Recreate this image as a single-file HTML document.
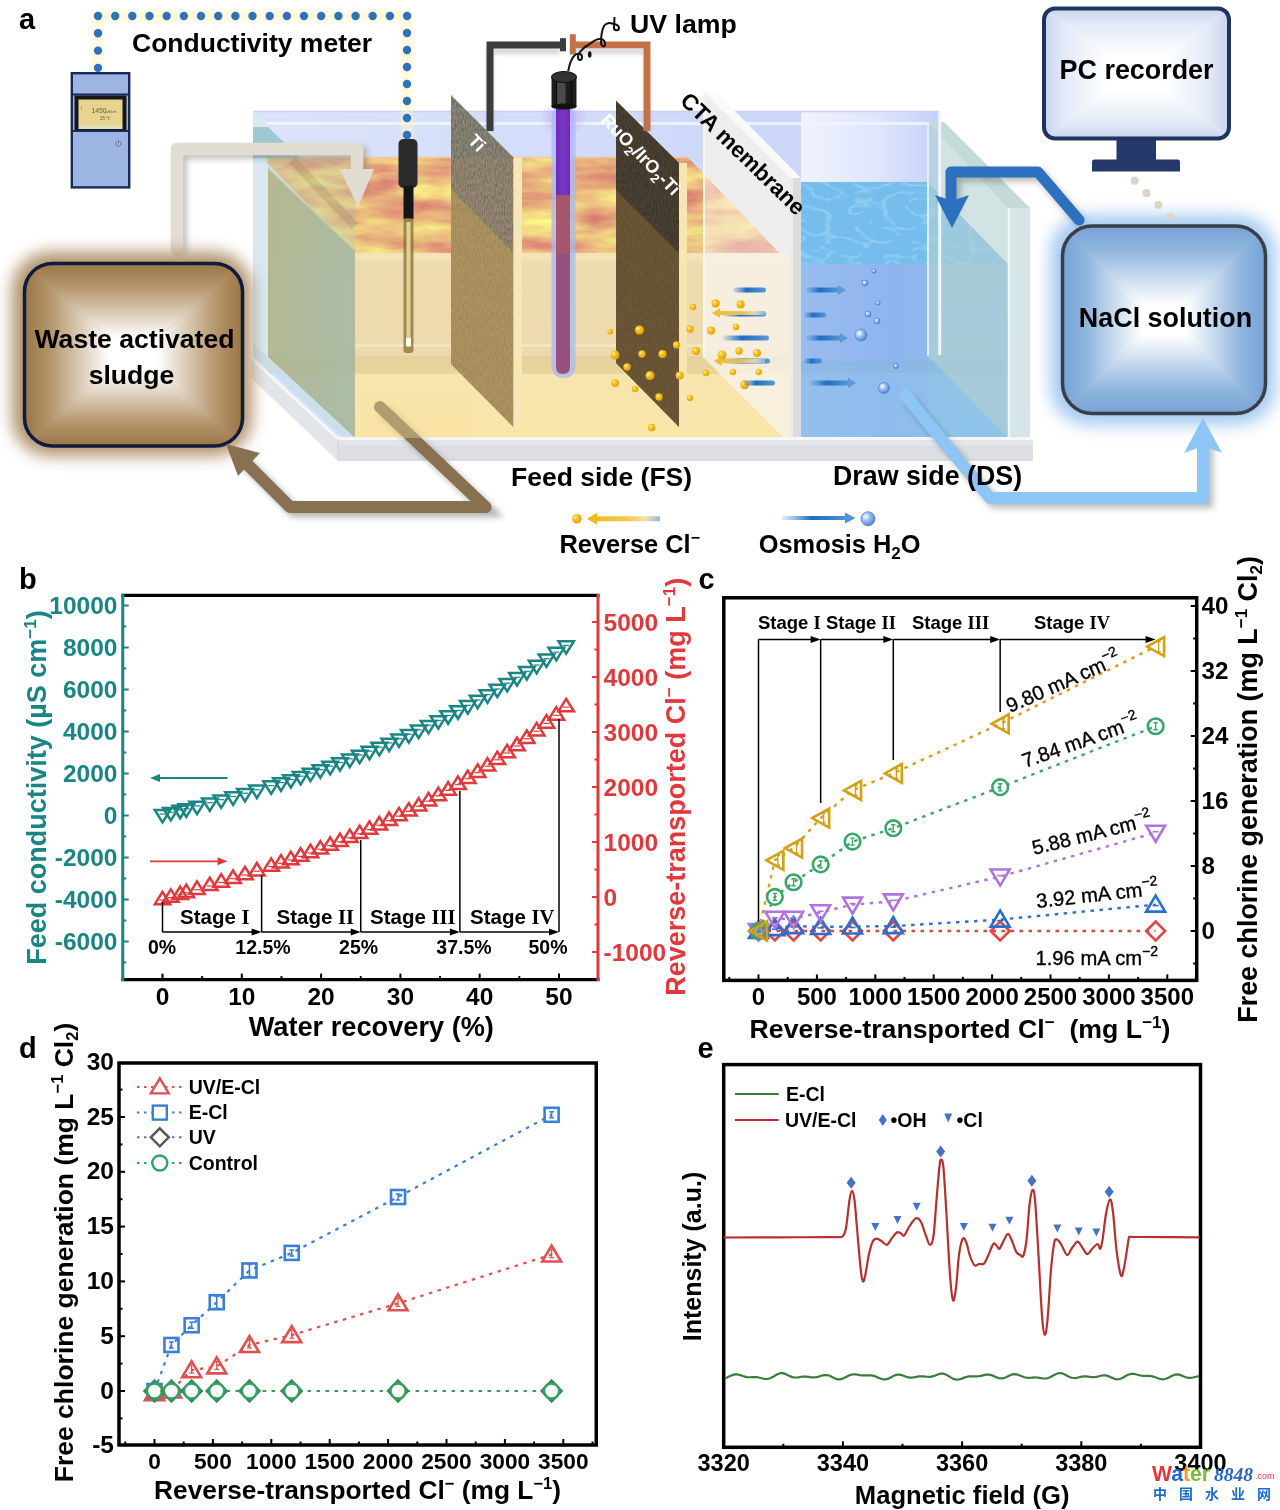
<!DOCTYPE html>
<html><head><meta charset="utf-8"><title>Figure</title>
<style>html,body{margin:0;padding:0;background:#fff;}svg{display:block;}</style>
</head><body>
<svg width="1280" height="1510" viewBox="0 0 1280 1510"><defs>
<linearGradient id="gBack" x1="0" y1="0" x2="1" y2="0">
 <stop offset="0" stop-color="#dce4fa"/><stop offset="0.5" stop-color="#d4ddf9"/><stop offset="1" stop-color="#cbd6f8"/></linearGradient>
<linearGradient id="gBackDS" x1="0" y1="0" x2="1" y2="0">
 <stop offset="0" stop-color="#f0f3fe"/><stop offset="0.55" stop-color="#dfe6fc"/><stop offset="1" stop-color="#c4d0f7"/></linearGradient>
<linearGradient id="gFeedBody" x1="0" y1="0" x2="0" y2="1">
 <stop offset="0" stop-color="#efdcae"/><stop offset="0.55" stop-color="#ecdaae"/><stop offset="0.575" stop-color="#ecdcb0"/><stop offset="0.64" stop-color="#f0dfae"/><stop offset="0.66" stop-color="#f8e5ae"/><stop offset="1" stop-color="#fae6a6"/></linearGradient>
<linearGradient id="gFeedFade" x1="0" y1="0" x2="1" y2="0">
 <stop offset="0" stop-color="#ffffff" stop-opacity="0"/><stop offset="1" stop-color="#ffffff" stop-opacity="0.45"/></linearGradient>
<linearGradient id="gWater" x1="0" y1="0" x2="1" y2="0">
 <stop offset="0" stop-color="#9abcee"/><stop offset="0.7" stop-color="#8fb4ef"/><stop offset="1" stop-color="#90b8ec"/></linearGradient>
<linearGradient id="gWaterR" x1="0" y1="0" x2="0" y2="1">
 <stop offset="0" stop-color="#94c0e4"/><stop offset="1" stop-color="#8ec4ea"/></linearGradient>
<linearGradient id="gUVtop" x1="0" y1="0" x2="1" y2="0">
 <stop offset="0" stop-color="#6a2cb8"/><stop offset="0.5" stop-color="#7a36c6"/><stop offset="1" stop-color="#6a2cb8"/></linearGradient>
<linearGradient id="gArrowB" x1="0" y1="0" x2="1" y2="0">
 <stop offset="0" stop-color="#3a86cc" stop-opacity="0.15"/><stop offset="0.4" stop-color="#1f6cc0"/><stop offset="1" stop-color="#5b9ad6"/></linearGradient>
<linearGradient id="gArrowY" x1="0" y1="0" x2="1" y2="0">
 <stop offset="0" stop-color="#f0b418"/><stop offset="0.55" stop-color="#f5c850"/><stop offset="0.8" stop-color="#f8e0a0"/><stop offset="1" stop-color="#8cb8e8"/></linearGradient>
<radialGradient id="gBall" cx="0.35" cy="0.35" r="0.7">
 <stop offset="0" stop-color="#fff2b0"/><stop offset="0.35" stop-color="#f8c424"/><stop offset="1" stop-color="#e0a000"/></radialGradient>
<radialGradient id="gBub" cx="0.35" cy="0.35" r="0.7">
 <stop offset="0" stop-color="#ffffff"/><stop offset="0.4" stop-color="#a0c4f4"/><stop offset="1" stop-color="#4a7ed0"/></radialGradient>
<radialGradient id="gGlowP" cx="0.5" cy="0.5" r="0.5">
 <stop offset="0" stop-color="#c090e8" stop-opacity="0.7"/><stop offset="1" stop-color="#c090e8" stop-opacity="0"/></radialGradient>
<filter id="blur8" x="-30%" y="-30%" width="160%" height="160%"><feGaussianBlur stdDeviation="8"/></filter>
<filter id="blur6" x="-30%" y="-30%" width="160%" height="160%"><feGaussianBlur stdDeviation="6"/></filter>
<filter id="blur3" x="-30%" y="-30%" width="160%" height="160%"><feGaussianBlur stdDeviation="3"/></filter>
<filter id="blur2" x="-30%" y="-30%" width="160%" height="160%"><feGaussianBlur stdDeviation="2"/></filter>
<filter id="marble" x="0" y="0" width="100%" height="100%" color-interpolation-filters="sRGB">
 <feTurbulence type="fractalNoise" baseFrequency="0.014 0.05" numOctaves="4" seed="11" result="n"/>
 <feColorMatrix in="n" type="matrix" values="0.2 0 0 0 0.82  0.75 0 0 0 0.36  0.13 0 0 0 0.43  0 0 0 0 1" result="c"/>
 <feComposite in="c" in2="SourceGraphic" operator="in"/>
</filter>
<filter id="ripple" x="0" y="0" width="100%" height="100%" color-interpolation-filters="sRGB">
 <feTurbulence type="turbulence" baseFrequency="0.035 0.07" numOctaves="2" seed="7" result="n"/>
 <feColorMatrix in="n" type="matrix" values="0 0 0 0 0.82  0 0 0 0 0.94  0 0 0 0 1  -2.0 0 0 0 0.36" result="c"/>
 <feFlood flood-color="#74bdec" result="f"/>
 <feComposite in="c" in2="f" operator="over" result="m"/>
 <feComposite in="m" in2="SourceGraphic" operator="in"/>
</filter>
<filter id="fabric" x="0" y="0" width="100%" height="100%" color-interpolation-filters="sRGB">
 <feTurbulence type="fractalNoise" baseFrequency="0.9 0.25" numOctaves="1" seed="2" result="n"/>
 <feColorMatrix in="n" type="matrix" values="0 0 0 0 0  0 0 0 0 0  0 0 0 0 0  0.6 0 0 0 -0.22" result="a"/>
 <feComposite in="a" in2="SourceGraphic" operator="in" result="t"/>
 <feMerge><feMergeNode in="SourceGraphic"/><feMergeNode in="t"/></feMerge>
</filter>
</defs>
<path d="M253,111 H801 V441 H338 L253,358 Z" fill="url(#gBack)"/>
<rect x="801" y="111" width="139" height="330" fill="url(#gBackDS)"/>
<path d="M253,111.5 H940" stroke="#c4d0f2" stroke-width="1.5"/>
<path d="M262,123.5 H930" stroke="#f2f5fe" stroke-width="3" opacity="0.9"/>
<rect x="355" y="253" width="445" height="186" fill="url(#gFeedBody)"/>
<rect x="355" y="253" width="445" height="8" fill="#f6e6c0" opacity="0.6"/>
<path d="M268,356 H790 V374 H268 Z" fill="#d4a848" opacity="0.2"/>
<path d="M268,345.5 H790" stroke="#fff6dc" stroke-width="2" opacity="0.55"/>
<path d="M704,92 L790,178 V253 H704 Z" fill="#eeeeee"/>
<path d="M704,253 H790 V444 L704,358 Z" fill="#f7f3ea" opacity="0.8"/>
<path d="M262,157.5 H688 L779,253 H355 Z" fill="#f0b060" filter="url(#marble)"/>
<path d="M704,174.3 L779,253 H704 Z" fill="#ffffff" opacity="0.4"/>
<path d="M262,157.5 H688" stroke="#f3c9a0" stroke-width="2" opacity="0.7"/>
<path d="M451,95 L513.5,157.5 L513.5,427 L451,364 Z" fill="#8b877a" filter="url(#fabric)"/>
<path d="M451,189 L513.5,253 L513.5,427 L451,364 Z" fill="#c8a050" opacity="0.55"/>
<path d="M451,189 L513.5,253 V157.5 L451,157.5 Z" fill="#e89050" opacity="0.12"/>
<rect x="513.5" y="157.5" width="8.5" height="270" fill="#f7e7b8"/>
<path d="M513.5,160 V427" stroke="#e8d098" stroke-width="1" stroke-dasharray="1 3"/>
<path d="M616,100.5 L679,163 L679,427 L616,363 Z" fill="#4c4234" filter="url(#fabric)"/>
<path d="M616,190 L679,253 L679,427 L616,363 Z" fill="#a88040" opacity="0.35"/>
<rect x="679" y="163" width="8" height="264" fill="#f7e6b4"/>
<ellipse cx="563.5" cy="118" rx="24" ry="18" fill="url(#gGlowP)"/>
<rect x="551.5" y="106" width="24" height="272" rx="11" fill="#aab8f2" opacity="0.75"/>
<rect x="556" y="107" width="14" height="88" fill="url(#gUVtop)"/>
<path d="M556,195 H570 V367 Q570,374 563,374 Q556,374 556,367 Z" fill="#95507f"/>
<path d="M556,195 H570 V253 H556 Z" fill="#c0604a" opacity="0.35"/>
<rect x="551.5" y="77" width="25" height="30" fill="#1c1c1c"/>
<rect x="556.5" y="80" width="9" height="27" fill="#4a4a4a"/>
<ellipse cx="564" cy="77" rx="12.5" ry="5.5" fill="#333" stroke="#111" stroke-width="1"/>
<ellipse cx="564" cy="106.5" rx="12.5" ry="3" fill="#111"/>
<path d="M556.5,81 V106 M571.5,81 V106" stroke="#0a0a0a" stroke-width="1.2"/>
<path d="M490,131 V51 H560 M572.5,51 H647 V131" fill="none" stroke="#888" stroke-width="6" opacity="0.35" filter="url(#blur2)"/>
<path d="M490,131 V45 H560" fill="none" stroke="#3c3c3c" stroke-width="7"/>
<rect x="560" y="38.2" width="6" height="13.1" fill="#3c3c3c"/>
<path d="M572.5,44.8 H647 V131" fill="none" stroke="#c47146" stroke-width="6.8"/>
<rect x="569.8" y="34.2" width="6" height="20.3" fill="#c47146"/>
<path d="M568.2,71.2 C569.5,64 571.5,58 575,55 C577,53 582,53 582,57 C582,61 578,61 578,57 C578,53 584,47 589,44.5 C592,42 596,39 600,39 C604,39 605.5,42 605,45 C604.5,47.5 601,46 601,43 C601,38 602,30 604,26 C606,23 610,22.5 612,23.5 C615,24 619,25 619,28 C619,31 614,31 614,28 C614,24 614.5,20 614.5,17" fill="none" stroke="#111" stroke-width="2"/>
<ellipse cx="589.7" cy="54.5" rx="1.8" ry="3.2" fill="#111"/>
<text x="630.00" y="32.50" font-family="'Liberation Sans', Arial, sans-serif" font-size="26.7" font-weight="bold" fill="#000" text-anchor="start" >UV lamp</text>
<rect x="398.5" y="139" width="19" height="49" rx="5" fill="#2a2a2a"/>
<rect x="403.5" y="186" width="10" height="33" fill="#151515"/>
<rect x="403.5" y="218" width="10" height="135" rx="3" fill="#8a6e30" opacity="0.75"/>
<rect x="406.5" y="222" width="4" height="125" fill="#e8d9a0" opacity="0.9"/>
<rect x="406" y="338" width="5" height="8" fill="#fff"/>
<path d="M704,92 L716,92 L801,178 L790,178 Z" fill="#fafafa"/>
<path d="M704,92 V358" stroke="#f6f6f6" stroke-width="2"/>
<rect x="790" y="178" width="11" height="266" fill="#dcdcdc"/>
<rect x="790" y="178" width="3" height="266" fill="#ececec"/>
<rect x="801" y="263" width="127" height="176" fill="url(#gWater)"/>
<path d="M928,263 H1008 V438 H928 Z" fill="url(#gWaterR)"/>
<rect x="801" y="365" width="127" height="73" fill="#8ec6ea" opacity="0.45"/>
<path d="M801,367 H1008" stroke="#86b6dc" stroke-width="12" opacity="0.45"/>
<path d="M801,182 H928 L1008,264 H801 Z" fill="#6cb6e8" filter="url(#ripple)"/>
<path d="M928,122 L1008,204 L1008,438 L928,356 Z" fill="#b4d0d0" opacity="0.6"/>
<path d="M928,122 L944,122 L1030,208 L1008,208 Z" fill="#c4dad8"/>
<rect x="1008" y="208" width="22" height="239" fill="#d6e6e6"/>
<path d="M1009,208 V447" stroke="#f0f6f6" stroke-width="2.5"/>
<path d="M928,122 V356" stroke="#e2ecf8" stroke-width="2"/>
<path d="M939.7,111 V355" stroke="#f2f5fe" stroke-width="3"/>
<path d="M253.5,111 L267,124 L267,357 L253.5,344 Z" fill="#dae8f2"/>
<path d="M253,127 L268,127 L300,158 L253,158 Z" fill="#86bcc2" opacity="0.7"/>
<path d="M268,158 L355,158 L355,251 L268,167.5 Z" fill="#a8c8c0" opacity="0.25"/>
<path d="M292,160 L355,226" stroke="#8a7040" stroke-width="9" opacity="0.22"/>
<linearGradient id="gGreen" x1="0" y1="0" x2="1" y2="0.3"><stop offset="0" stop-color="#afb283"/><stop offset="1" stop-color="#a6b699"/></linearGradient>
<path d="M268,168 L355,250 L355,438 L268,357 Z" fill="url(#gGreen)" opacity="0.88"/>
<path d="M268,168 L355,250" stroke="#c4d4b0" stroke-width="2" opacity="0.8"/>
<path d="M253.5,344 L268,357 L355,438 L346,440 L253.5,356 Z" fill="#c8dde8" opacity="0.8"/>
<path d="M251,358 L338,438.5 H1033 V461 H338 L251,378 Z" fill="#e3e5ea"/>
<path d="M251,358 L338,438.5 H1033" fill="none" stroke="#f6f7fa" stroke-width="3"/>
<path d="M338,446 H1033 V461 H338 Z" fill="#dcdee3"/>
<path d="M338,438.5 V461" stroke="#d2d5dc" stroke-width="1"/>
<text x="467.00" y="141.60" font-family="'Liberation Sans', Arial, sans-serif" font-size="18" font-weight="bold" fill="#fff" text-anchor="start" transform="rotate(46 467.00 141.60)" >Ti</text>
<text x="600.00" y="121.00" font-family="'Liberation Sans', Arial, sans-serif" font-size="18" font-weight="bold" fill="#fff" text-anchor="start" transform="rotate(46 600.00 121.00)" >RuO<tspan dy="4.5" font-size="12.5">2</tspan><tspan dy="-4.5">/IrO</tspan><tspan dy="4.5" font-size="12.5">2</tspan><tspan dy="-4.5">-Ti</tspan></text>
<text x="679.00" y="102.00" font-family="'Liberation Sans', Arial, sans-serif" font-size="22.5" font-weight="bold" fill="#000" text-anchor="start" transform="rotate(44.3 679.00 102.00)" >CTA membrane</text>
<circle cx="693" cy="307" r="3.28" fill="url(#gBall)"/>
<circle cx="715.6" cy="303.4" r="4.10" fill="url(#gBall)"/>
<circle cx="740.6" cy="304.4" r="4.10" fill="url(#gBall)"/>
<circle cx="610.3" cy="331.6" r="2.87" fill="url(#gBall)"/>
<circle cx="639.4" cy="330" r="4.51" fill="url(#gBall)"/>
<circle cx="690" cy="329" r="3.69" fill="url(#gBall)"/>
<circle cx="711" cy="330.6" r="4.10" fill="url(#gBall)"/>
<circle cx="736" cy="327" r="3.28" fill="url(#gBall)"/>
<circle cx="676.6" cy="345" r="3.69" fill="url(#gBall)"/>
<circle cx="615" cy="355" r="4.51" fill="url(#gBall)"/>
<circle cx="642" cy="354" r="3.69" fill="url(#gBall)"/>
<circle cx="662.5" cy="354" r="4.10" fill="url(#gBall)"/>
<circle cx="696" cy="351" r="4.10" fill="url(#gBall)"/>
<circle cx="722" cy="355" r="4.51" fill="url(#gBall)"/>
<circle cx="739" cy="351" r="3.69" fill="url(#gBall)"/>
<circle cx="757" cy="353" r="4.10" fill="url(#gBall)"/>
<circle cx="627" cy="367" r="3.69" fill="url(#gBall)"/>
<circle cx="650" cy="375.6" r="4.51" fill="url(#gBall)"/>
<circle cx="679.7" cy="375.6" r="4.10" fill="url(#gBall)"/>
<circle cx="706" cy="373" r="3.28" fill="url(#gBall)"/>
<circle cx="733" cy="372" r="3.28" fill="url(#gBall)"/>
<circle cx="758.75" cy="372" r="3.28" fill="url(#gBall)"/>
<circle cx="615" cy="383" r="4.10" fill="url(#gBall)"/>
<circle cx="635" cy="389" r="3.28" fill="url(#gBall)"/>
<circle cx="659" cy="397" r="3.69" fill="url(#gBall)"/>
<circle cx="690" cy="398" r="3.28" fill="url(#gBall)"/>
<circle cx="744.7" cy="384.7" r="4.51" fill="url(#gBall)"/>
<circle cx="651.6" cy="427.5" r="3.69" fill="url(#gBall)"/>
<rect x="733" y="287.5" width="33" height="5" rx="2.5" fill="url(#gArrowB)"/>
<rect x="723" y="311.5" width="43" height="5" rx="2.5" fill="url(#gArrowB)"/>
<rect x="723" y="335.5" width="46" height="5" rx="2.5" fill="url(#gArrowB)"/>
<rect x="723" y="358.5" width="47" height="5" rx="2.5" fill="url(#gArrowB)"/>
<rect x="743" y="380.5" width="32" height="5" rx="2.5" fill="url(#gArrowB)"/>
<path d="M712,313 l8,-5 v3 h45 v4 h-45 v3 Z" fill="url(#gArrowY)" opacity="0.9"/>
<path d="M714,361 l8,-5 v3 h43 v4 h-43 v3 Z" fill="url(#gArrowY)" opacity="0.9"/>
<rect x="806" y="287.5" width="34" height="5" rx="2" fill="url(#gArrowB)"/>
<path d="M846,290 l-8,-5 v10 Z" fill="#5b9ad6"/>
<rect x="804" y="312.5" width="22" height="5" rx="2" fill="url(#gArrowB)"/>
<rect x="806" y="335.5" width="36" height="5" rx="2" fill="url(#gArrowB)"/>
<path d="M848,338 l-8,-5 v10 Z" fill="#5b9ad6"/>
<rect x="804" y="358.5" width="18" height="5" rx="2" fill="url(#gArrowB)"/>
<rect x="810" y="380.5" width="40" height="5" rx="2" fill="url(#gArrowB)"/>
<path d="M856,383 l-8,-5 v10 Z" fill="#5b9ad6"/>
<circle cx="874" cy="271" r="2.2" fill="url(#gBub)" stroke="#4a7cc8" stroke-width="0.6"/>
<circle cx="865" cy="283" r="3" fill="url(#gBub)" stroke="#4a7cc8" stroke-width="0.6"/>
<circle cx="878" cy="303" r="2.2" fill="url(#gBub)" stroke="#4a7cc8" stroke-width="0.6"/>
<circle cx="868" cy="314" r="3" fill="url(#gBub)" stroke="#4a7cc8" stroke-width="0.6"/>
<circle cx="877" cy="321" r="3" fill="url(#gBub)" stroke="#4a7cc8" stroke-width="0.6"/>
<circle cx="861" cy="335" r="6" fill="url(#gBub)" stroke="#4a7cc8" stroke-width="0.6"/>
<circle cx="884" cy="388" r="5.5" fill="url(#gBub)" stroke="#4a7cc8" stroke-width="0.6"/>
<circle cx="896" cy="366" r="2.5" fill="url(#gBub)" stroke="#4a7cc8" stroke-width="0.6"/>
<path d="M98,16 H407 M98,16 V68 M407,16 V135" stroke="#fff4c4" stroke-width="12" fill="none" opacity="0.55" filter="url(#blur2)"/>
<circle cx="98.0" cy="16.0" r="4.2" fill="#2e72bb"/>
<circle cx="115.2" cy="16.0" r="4.2" fill="#2e72bb"/>
<circle cx="132.3" cy="16.0" r="4.2" fill="#2e72bb"/>
<circle cx="149.5" cy="16.0" r="4.2" fill="#2e72bb"/>
<circle cx="166.7" cy="16.0" r="4.2" fill="#2e72bb"/>
<circle cx="183.9" cy="16.0" r="4.2" fill="#2e72bb"/>
<circle cx="201.0" cy="16.0" r="4.2" fill="#2e72bb"/>
<circle cx="218.2" cy="16.0" r="4.2" fill="#2e72bb"/>
<circle cx="235.4" cy="16.0" r="4.2" fill="#2e72bb"/>
<circle cx="252.5" cy="16.0" r="4.2" fill="#2e72bb"/>
<circle cx="269.7" cy="16.0" r="4.2" fill="#2e72bb"/>
<circle cx="286.9" cy="16.0" r="4.2" fill="#2e72bb"/>
<circle cx="304.0" cy="16.0" r="4.2" fill="#2e72bb"/>
<circle cx="321.2" cy="16.0" r="4.2" fill="#2e72bb"/>
<circle cx="338.4" cy="16.0" r="4.2" fill="#2e72bb"/>
<circle cx="355.6" cy="16.0" r="4.2" fill="#2e72bb"/>
<circle cx="372.7" cy="16.0" r="4.2" fill="#2e72bb"/>
<circle cx="389.9" cy="16.0" r="4.2" fill="#2e72bb"/>
<circle cx="407.1" cy="16.0" r="4.2" fill="#2e72bb"/>
<circle cx="98.0" cy="33.3" r="4.2" fill="#2e72bb"/>
<circle cx="98.0" cy="50.6" r="4.2" fill="#2e72bb"/>
<circle cx="98.0" cy="67.9" r="4.2" fill="#2e72bb"/>
<circle cx="407.0" cy="33.0" r="4.2" fill="#2e72bb"/>
<circle cx="407.0" cy="50.0" r="4.2" fill="#2e72bb"/>
<circle cx="407.0" cy="67.0" r="4.2" fill="#2e72bb"/>
<circle cx="407.0" cy="84.0" r="4.2" fill="#2e72bb"/>
<circle cx="407.0" cy="101.0" r="4.2" fill="#2e72bb"/>
<circle cx="407.0" cy="118.0" r="4.2" fill="#2e72bb"/>
<circle cx="407.0" cy="135.0" r="4.2" fill="#2e72bb"/>
<text x="132.00" y="51.80" font-family="'Liberation Sans', Arial, sans-serif" font-size="26.5" font-weight="bold" fill="#000" text-anchor="start" >Conductivity meter</text>
<linearGradient id="gScr" x1="0" y1="0" x2="0" y2="1"><stop offset="0" stop-color="#e6d38c"/><stop offset="0.8" stop-color="#e8d690"/><stop offset="1" stop-color="#e2e0d0"/></linearGradient>
<rect x="71.8" y="73.2" width="57.4" height="114.2" fill="#9cb5e2" stroke="#18295a" stroke-width="2.4"/>
<path d="M72,94.5 H129" stroke="#18295a" stroke-width="2.2"/>
<rect x="74.5" y="95.5" width="52" height="35" fill="#161616"/>
<rect x="78.5" y="99.5" width="44" height="29.5" fill="url(#gScr)"/>
<path d="M72,131 H129" stroke="#18295a" stroke-width="2.2"/>
<text x="91.50" y="112.50" font-family="'Liberation Sans', Arial, sans-serif" font-size="6.8" font-weight="normal" fill="#6a6040" text-anchor="start" >1450</text>
<text x="105.50" y="112.50" font-family="'Liberation Sans', Arial, sans-serif" font-size="3.8" font-weight="normal" fill="#6a6040" text-anchor="start" >μS/cm</text>
<text x="100.00" y="119.50" font-family="'Liberation Sans', Arial, sans-serif" font-size="4.5" font-weight="normal" fill="#6a6040" text-anchor="start" >25 ℃</text>
<path d="M81.5,107 V110" stroke="#8a8060" stroke-width="0.6"/>
<path d="M116.8,141.6 A2.6,2.6 0 1 0 120.2,141.6" fill="none" stroke="#707070" stroke-width="1"/>
<path d="M118.5,140.2 V143.4" stroke="#707070" stroke-width="1"/>
<g filter="url(#blur3)" opacity="0.45"><path d="M181,254 V153 H361 V192" fill="none" stroke="#777" stroke-width="12"/></g>
<path d="M177,250 V149 H357 V180" fill="none" stroke="#e2ddd3" stroke-width="12.5" stroke-linecap="round" stroke-linejoin="round"/>
<path d="M340,169 L374,169 L358,207 Z" fill="#e2ddd3"/>
<rect x="12" y="252" width="240" height="204" rx="38" fill="#a8875c" filter="url(#blur8)" opacity="0.9"/>
<defs><clipPath id="pSc"><rect x="24.5" y="263.5" width="218" height="182.5" rx="28"/></clipPath>
<linearGradient id="pSt" gradientUnits="userSpaceOnUse" x1="0" y1="263.5" x2="0" y2="338.325"><stop offset="0" stop-color="#9a7646"/><stop offset="0.3" stop-color="#b4946a"/><stop offset="1" stop-color="#ffffff"/></linearGradient>
<linearGradient id="pSb" gradientUnits="userSpaceOnUse" x1="0" y1="446.0" x2="0" y2="371.175"><stop offset="0" stop-color="#9a7646"/><stop offset="0.3" stop-color="#b4946a"/><stop offset="1" stop-color="#ffffff"/></linearGradient>
<linearGradient id="pSl" gradientUnits="userSpaceOnUse" x1="24.5" y1="0" x2="109.52" y2="0"><stop offset="0" stop-color="#9a7646"/><stop offset="0.3" stop-color="#b4946a"/><stop offset="1" stop-color="#ffffff"/></linearGradient>
<linearGradient id="pSr" gradientUnits="userSpaceOnUse" x1="242.5" y1="0" x2="157.48" y2="0"><stop offset="0" stop-color="#9a7646"/><stop offset="0.3" stop-color="#b4946a"/><stop offset="1" stop-color="#ffffff"/></linearGradient>
</defs><g clip-path="url(#pSc)">
<path d="M24.5,263.5 H242.5 L157.48,338.325 H109.52 Z" fill="url(#pSt)"/>
<path d="M24.5,446.0 H242.5 L157.48,371.175 H109.52 Z" fill="url(#pSb)"/>
<path d="M24.5,263.5 V446.0 L109.52,371.175 V338.325 Z" fill="url(#pSl)"/>
<path d="M242.5,263.5 V446.0 L157.48,371.175 V338.325 Z" fill="url(#pSr)"/>
<rect x="109.02" y="337.825" width="48.959999999999994" height="33.85000000000002" fill="#ffffff"/>
</g><rect x="24.5" y="263.5" width="218" height="182.5" rx="28" fill="none" stroke="#121a40" stroke-width="3.5"/>
<text x="134.50" y="348.00" font-family="'Liberation Sans', Arial, sans-serif" font-size="26.6" font-weight="bold" fill="#000" text-anchor="middle" >Waste activated</text>
<text x="131.50" y="383.60" font-family="'Liberation Sans', Arial, sans-serif" font-size="26.6" font-weight="bold" fill="#000" text-anchor="middle" >sludge</text>
<g filter="url(#blur3)" opacity="0.45"><path d="M384,411 L489,511 H294 L244,461" fill="none" stroke="#555" stroke-width="12"/></g>
<path d="M380,407 L485.6,507 H290 L240,457" fill="none" stroke="#877150" stroke-width="12" stroke-linejoin="round" stroke-linecap="round"/>
<path d="M226,444 L260,453 L238,476 Z" fill="#877150"/>
<path d="M360,395 H470 V438 H360 Z" fill="#f6e2a4" opacity="0.38"/>
<defs><clipPath id="pPc"><rect x="1044" y="8.5" width="185" height="130" rx="11"/></clipPath>
<linearGradient id="pPt" gradientUnits="userSpaceOnUse" x1="0" y1="8.5" x2="0" y2="57.25"><stop offset="0" stop-color="#c8d5ee"/><stop offset="0.3" stop-color="#e2e9f7"/><stop offset="1" stop-color="#ffffff"/></linearGradient>
<linearGradient id="pPb" gradientUnits="userSpaceOnUse" x1="0" y1="138.5" x2="0" y2="89.75"><stop offset="0" stop-color="#c8d5ee"/><stop offset="0.3" stop-color="#e2e9f7"/><stop offset="1" stop-color="#ffffff"/></linearGradient>
<linearGradient id="pPl" gradientUnits="userSpaceOnUse" x1="1044" y1="0" x2="1108.75" y2="0"><stop offset="0" stop-color="#c8d5ee"/><stop offset="0.3" stop-color="#e2e9f7"/><stop offset="1" stop-color="#ffffff"/></linearGradient>
<linearGradient id="pPr" gradientUnits="userSpaceOnUse" x1="1229" y1="0" x2="1164.25" y2="0"><stop offset="0" stop-color="#c8d5ee"/><stop offset="0.3" stop-color="#e2e9f7"/><stop offset="1" stop-color="#ffffff"/></linearGradient>
</defs><g clip-path="url(#pPc)">
<path d="M1044,8.5 H1229 L1164.25,57.25 H1108.75 Z" fill="url(#pPt)"/>
<path d="M1044,138.5 H1229 L1164.25,89.75 H1108.75 Z" fill="url(#pPb)"/>
<path d="M1044,8.5 V138.5 L1108.75,89.75 V57.25 Z" fill="url(#pPl)"/>
<path d="M1229,8.5 V138.5 L1164.25,89.75 V57.25 Z" fill="url(#pPr)"/>
<rect x="1108.25" y="56.75" width="56.5" height="33.5" fill="#ffffff"/>
</g><rect x="1044" y="8.5" width="185" height="130" rx="11" fill="none" stroke="#1f335f" stroke-width="4"/>
<rect x="1116.5" y="140" width="39.5" height="20" fill="#25386a"/>
<path d="M1094,159.5 H1178 Q1180,159.5 1180,162 V171.6 H1092 V162 Q1092,159.5 1094,159.5 Z" fill="#25386a"/>
<text x="1059.60" y="79.20" font-family="'Liberation Sans', Arial, sans-serif" font-size="26.9" font-weight="bold" fill="#000" text-anchor="start" >PC recorder</text>
<rect x="1050" y="215" width="226" height="210" rx="38" fill="#9cc6f0" filter="url(#blur8)" opacity="0.9"/>
<defs><clipPath id="pNc"><rect x="1062.5" y="226" width="203" height="187.5" rx="30"/></clipPath>
<linearGradient id="pNt" gradientUnits="userSpaceOnUse" x1="0" y1="226" x2="0" y2="304.75"><stop offset="0" stop-color="#76a3d5"/><stop offset="0.3" stop-color="#8fb5de"/><stop offset="1" stop-color="#ffffff"/></linearGradient>
<linearGradient id="pNb" gradientUnits="userSpaceOnUse" x1="0" y1="413.5" x2="0" y2="334.75"><stop offset="0" stop-color="#76a3d5"/><stop offset="0.3" stop-color="#8fb5de"/><stop offset="1" stop-color="#ffffff"/></linearGradient>
<linearGradient id="pNl" gradientUnits="userSpaceOnUse" x1="1062.5" y1="0" x2="1141.67" y2="0"><stop offset="0" stop-color="#76a3d5"/><stop offset="0.3" stop-color="#8fb5de"/><stop offset="1" stop-color="#ffffff"/></linearGradient>
<linearGradient id="pNr" gradientUnits="userSpaceOnUse" x1="1265.5" y1="0" x2="1186.33" y2="0"><stop offset="0" stop-color="#76a3d5"/><stop offset="0.3" stop-color="#8fb5de"/><stop offset="1" stop-color="#ffffff"/></linearGradient>
</defs><g clip-path="url(#pNc)">
<path d="M1062.5,226 H1265.5 L1186.33,304.75 H1141.67 Z" fill="url(#pNt)"/>
<path d="M1062.5,413.5 H1265.5 L1186.33,334.75 H1141.67 Z" fill="url(#pNb)"/>
<path d="M1062.5,226 V413.5 L1141.67,334.75 V304.75 Z" fill="url(#pNl)"/>
<path d="M1265.5,226 V413.5 L1186.33,334.75 V304.75 Z" fill="url(#pNr)"/>
<rect x="1141.17" y="304.25" width="45.659999999999854" height="31.0" fill="#ffffff"/>
</g><rect x="1062.5" y="226" width="203" height="187.5" rx="30" fill="none" stroke="#3a3e47" stroke-width="3.5"/>
<text x="1165.50" y="327.00" font-family="'Liberation Sans', Arial, sans-serif" font-size="26.9" font-weight="bold" fill="#000" text-anchor="middle" >NaCl solution</text>
<circle cx="1134.8" cy="180.8" r="4" fill="#dcd5c6"/>
<circle cx="1146.5" cy="193" r="4" fill="#dcd5c6"/>
<circle cx="1158.4" cy="205" r="4" fill="#dcd5c6"/>
<circle cx="1170" cy="217" r="4" fill="#dcd5c6"/>
<g filter="url(#blur3)" opacity="0.4"><path d="M1082,224 L1041,176 H955 V212" fill="none" stroke="#555" stroke-width="11"/></g>
<path d="M1079,220 L1038,172 H951 V205" fill="none" stroke="#2d70bf" stroke-width="11" stroke-linejoin="round" stroke-linecap="round"/>
<path d="M935,195 L952,201 L969,195 L952,228 Z" fill="#2d70bf"/>
<g filter="url(#blur3)" opacity="0.4"><path d="M909,400 L994,502 H1207 V445" fill="none" stroke="#555" stroke-width="12"/></g>
<path d="M905,395 L990,498 H1203 V440" fill="none" stroke="#8cc5f6" stroke-width="12" stroke-linejoin="round" stroke-linecap="round"/>
<path d="M1184,453 L1203,446 L1222,453 L1203,418 Z" fill="#8cc5f6"/>
<text x="511.00" y="486.00" font-family="'Liberation Sans', Arial, sans-serif" font-size="26.5" font-weight="bold" fill="#000" text-anchor="start" >Feed side (FS)</text>
<text x="833.00" y="484.70" font-family="'Liberation Sans', Arial, sans-serif" font-size="26.8" font-weight="bold" fill="#000" text-anchor="start" >Draw side (DS)</text>
<text x="559.40" y="553.00" font-family="'Liberation Sans', Arial, sans-serif" font-size="25.4" font-weight="bold" fill="#000" text-anchor="start" >Reverse Cl<tspan dy="-10" font-size="16">−</tspan></text>
<text x="758.70" y="552.50" font-family="'Liberation Sans', Arial, sans-serif" font-size="25.4" font-weight="bold" fill="#000" text-anchor="start" >Osmosis H<tspan dy="6" font-size="17">2</tspan><tspan dy="-6">O</tspan></text>
<circle cx="576.9" cy="518.75" r="4.8" fill="url(#gBall)"/>
<path d="M587,518.75 l10,-6 v3.5 h63 v5 h-63 v3.5 Z" fill="url(#gArrowY)"/>
<path d="M782,516 h63 v-3.5 l10.6,5.5 l-10.6,5.5 v-3.5 h-63 Z" fill="url(#gArrowB)"/>
<circle cx="868" cy="518.75" r="7" fill="url(#gBub)" stroke="#4a7cc8" stroke-width="0.8"/>
<text x="19.00" y="29.00" font-family="'Liberation Sans', Arial, sans-serif" font-size="29" font-weight="bold" fill="#000" text-anchor="start" >a</text>
<line x1="121.25" y1="595.40" x2="599.50" y2="595.40" stroke="#000" stroke-width="3.4" />
<line x1="121.25" y1="979.60" x2="599.50" y2="979.60" stroke="#000" stroke-width="3.4" />
<line x1="122.75" y1="593.90" x2="122.75" y2="981.10" stroke="#1a8583" stroke-width="3.0" />
<line x1="598.00" y1="593.90" x2="598.00" y2="981.10" stroke="#e0393c" stroke-width="3.0" />
<line x1="162.50" y1="979.60" x2="162.50" y2="973.60" stroke="#000" stroke-width="2" />
<line x1="202.15" y1="979.60" x2="202.15" y2="976.10" stroke="#000" stroke-width="2" />
<line x1="241.80" y1="979.60" x2="241.80" y2="973.60" stroke="#000" stroke-width="2" />
<line x1="281.45" y1="979.60" x2="281.45" y2="976.10" stroke="#000" stroke-width="2" />
<line x1="321.10" y1="979.60" x2="321.10" y2="973.60" stroke="#000" stroke-width="2" />
<line x1="360.75" y1="979.60" x2="360.75" y2="976.10" stroke="#000" stroke-width="2" />
<line x1="400.40" y1="979.60" x2="400.40" y2="973.60" stroke="#000" stroke-width="2" />
<line x1="440.05" y1="979.60" x2="440.05" y2="976.10" stroke="#000" stroke-width="2" />
<line x1="479.70" y1="979.60" x2="479.70" y2="973.60" stroke="#000" stroke-width="2" />
<line x1="519.35" y1="979.60" x2="519.35" y2="976.10" stroke="#000" stroke-width="2" />
<line x1="559.00" y1="979.60" x2="559.00" y2="973.60" stroke="#000" stroke-width="2" />
<text x="162.50" y="1004.50" font-family="'Liberation Sans', Arial, sans-serif" font-size="24.5" font-weight="bold" fill="#000" text-anchor="middle" >0</text>
<text x="241.80" y="1004.50" font-family="'Liberation Sans', Arial, sans-serif" font-size="24.5" font-weight="bold" fill="#000" text-anchor="middle" >10</text>
<text x="321.10" y="1004.50" font-family="'Liberation Sans', Arial, sans-serif" font-size="24.5" font-weight="bold" fill="#000" text-anchor="middle" >20</text>
<text x="400.40" y="1004.50" font-family="'Liberation Sans', Arial, sans-serif" font-size="24.5" font-weight="bold" fill="#000" text-anchor="middle" >30</text>
<text x="479.70" y="1004.50" font-family="'Liberation Sans', Arial, sans-serif" font-size="24.5" font-weight="bold" fill="#000" text-anchor="middle" >40</text>
<text x="559.00" y="1004.50" font-family="'Liberation Sans', Arial, sans-serif" font-size="24.5" font-weight="bold" fill="#000" text-anchor="middle" >50</text>
<line x1="122.75" y1="962.50" x2="126.25" y2="962.50" stroke="#1a8583" stroke-width="2" />
<line x1="122.75" y1="941.50" x2="128.75" y2="941.50" stroke="#1a8583" stroke-width="2" />
<line x1="122.75" y1="920.50" x2="126.25" y2="920.50" stroke="#1a8583" stroke-width="2" />
<line x1="122.75" y1="899.50" x2="128.75" y2="899.50" stroke="#1a8583" stroke-width="2" />
<line x1="122.75" y1="878.50" x2="126.25" y2="878.50" stroke="#1a8583" stroke-width="2" />
<line x1="122.75" y1="857.50" x2="128.75" y2="857.50" stroke="#1a8583" stroke-width="2" />
<line x1="122.75" y1="836.50" x2="126.25" y2="836.50" stroke="#1a8583" stroke-width="2" />
<line x1="122.75" y1="815.50" x2="128.75" y2="815.50" stroke="#1a8583" stroke-width="2" />
<line x1="122.75" y1="794.50" x2="126.25" y2="794.50" stroke="#1a8583" stroke-width="2" />
<line x1="122.75" y1="773.50" x2="128.75" y2="773.50" stroke="#1a8583" stroke-width="2" />
<line x1="122.75" y1="752.50" x2="126.25" y2="752.50" stroke="#1a8583" stroke-width="2" />
<line x1="122.75" y1="731.50" x2="128.75" y2="731.50" stroke="#1a8583" stroke-width="2" />
<line x1="122.75" y1="710.50" x2="126.25" y2="710.50" stroke="#1a8583" stroke-width="2" />
<line x1="122.75" y1="689.50" x2="128.75" y2="689.50" stroke="#1a8583" stroke-width="2" />
<line x1="122.75" y1="668.50" x2="126.25" y2="668.50" stroke="#1a8583" stroke-width="2" />
<line x1="122.75" y1="647.50" x2="128.75" y2="647.50" stroke="#1a8583" stroke-width="2" />
<line x1="122.75" y1="626.50" x2="126.25" y2="626.50" stroke="#1a8583" stroke-width="2" />
<line x1="122.75" y1="605.50" x2="128.75" y2="605.50" stroke="#1a8583" stroke-width="2" />
<text x="117.50" y="950.00" font-family="'Liberation Sans', Arial, sans-serif" font-size="24.5" font-weight="bold" fill="#1a8583" text-anchor="end" >-6000</text>
<text x="117.50" y="908.00" font-family="'Liberation Sans', Arial, sans-serif" font-size="24.5" font-weight="bold" fill="#1a8583" text-anchor="end" >-4000</text>
<text x="117.50" y="866.00" font-family="'Liberation Sans', Arial, sans-serif" font-size="24.5" font-weight="bold" fill="#1a8583" text-anchor="end" >-2000</text>
<text x="117.50" y="824.00" font-family="'Liberation Sans', Arial, sans-serif" font-size="24.5" font-weight="bold" fill="#1a8583" text-anchor="end" >0</text>
<text x="117.50" y="782.00" font-family="'Liberation Sans', Arial, sans-serif" font-size="24.5" font-weight="bold" fill="#1a8583" text-anchor="end" >2000</text>
<text x="117.50" y="740.00" font-family="'Liberation Sans', Arial, sans-serif" font-size="24.5" font-weight="bold" fill="#1a8583" text-anchor="end" >4000</text>
<text x="117.50" y="698.00" font-family="'Liberation Sans', Arial, sans-serif" font-size="24.5" font-weight="bold" fill="#1a8583" text-anchor="end" >6000</text>
<text x="117.50" y="656.00" font-family="'Liberation Sans', Arial, sans-serif" font-size="24.5" font-weight="bold" fill="#1a8583" text-anchor="end" >8000</text>
<text x="117.50" y="614.00" font-family="'Liberation Sans', Arial, sans-serif" font-size="24.5" font-weight="bold" fill="#1a8583" text-anchor="end" >10000</text>
<line x1="598.00" y1="952.00" x2="592.00" y2="952.00" stroke="#e0393c" stroke-width="2" />
<line x1="598.00" y1="924.50" x2="594.50" y2="924.50" stroke="#e0393c" stroke-width="2" />
<line x1="598.00" y1="897.00" x2="592.00" y2="897.00" stroke="#e0393c" stroke-width="2" />
<line x1="598.00" y1="869.50" x2="594.50" y2="869.50" stroke="#e0393c" stroke-width="2" />
<line x1="598.00" y1="842.00" x2="592.00" y2="842.00" stroke="#e0393c" stroke-width="2" />
<line x1="598.00" y1="814.50" x2="594.50" y2="814.50" stroke="#e0393c" stroke-width="2" />
<line x1="598.00" y1="787.00" x2="592.00" y2="787.00" stroke="#e0393c" stroke-width="2" />
<line x1="598.00" y1="759.50" x2="594.50" y2="759.50" stroke="#e0393c" stroke-width="2" />
<line x1="598.00" y1="732.00" x2="592.00" y2="732.00" stroke="#e0393c" stroke-width="2" />
<line x1="598.00" y1="704.50" x2="594.50" y2="704.50" stroke="#e0393c" stroke-width="2" />
<line x1="598.00" y1="677.00" x2="592.00" y2="677.00" stroke="#e0393c" stroke-width="2" />
<line x1="598.00" y1="649.50" x2="594.50" y2="649.50" stroke="#e0393c" stroke-width="2" />
<line x1="598.00" y1="622.00" x2="592.00" y2="622.00" stroke="#e0393c" stroke-width="2" />
<text x="603.50" y="960.50" font-family="'Liberation Sans', Arial, sans-serif" font-size="24.5" font-weight="bold" fill="#e0393c" text-anchor="start" >-1000</text>
<text x="603.50" y="905.50" font-family="'Liberation Sans', Arial, sans-serif" font-size="24.5" font-weight="bold" fill="#e0393c" text-anchor="start" >0</text>
<text x="603.50" y="850.50" font-family="'Liberation Sans', Arial, sans-serif" font-size="24.5" font-weight="bold" fill="#e0393c" text-anchor="start" >1000</text>
<text x="603.50" y="795.50" font-family="'Liberation Sans', Arial, sans-serif" font-size="24.5" font-weight="bold" fill="#e0393c" text-anchor="start" >2000</text>
<text x="603.50" y="740.50" font-family="'Liberation Sans', Arial, sans-serif" font-size="24.5" font-weight="bold" fill="#e0393c" text-anchor="start" >3000</text>
<text x="603.50" y="685.50" font-family="'Liberation Sans', Arial, sans-serif" font-size="24.5" font-weight="bold" fill="#e0393c" text-anchor="start" >4000</text>
<text x="603.50" y="630.50" font-family="'Liberation Sans', Arial, sans-serif" font-size="24.5" font-weight="bold" fill="#e0393c" text-anchor="start" >5000</text>
<text x="371.30" y="1036.00" font-family="'Liberation Sans', Arial, sans-serif" font-size="27.2" font-weight="bold" fill="#000" text-anchor="middle" >Water recovery (%)</text>
<text x="46.00" y="787.50" font-family="'Liberation Sans', Arial, sans-serif" font-size="27" font-weight="bold" fill="#1a8583" text-anchor="middle" transform="rotate(-90 46.00 787.50)" >Feed conductivity (µS cm<tspan dy="-10" font-size="17">−1</tspan><tspan dy="10">)</tspan></text>
<text x="685.00" y="786.80" font-family="'Liberation Sans', Arial, sans-serif" font-size="27" font-weight="bold" fill="#e0393c" text-anchor="middle" transform="rotate(-90 685.00 786.80)" >Reverse-transported Cl<tspan dy="-10" font-size="17">−</tspan><tspan dy="10"> (mg L</tspan><tspan dy="-10" font-size="17">−1</tspan><tspan dy="10">)</tspan></text>
<g><path d="M154.75,809.89 L162.50,822.39 L170.25,809.89 Z" fill="none" stroke="#1a8583" stroke-width="2.5"/><path d="M159.5,814.1H165.5" stroke="#1a8583" stroke-width="1.2"/><path d="M154.75,904.31 L162.50,891.81 L170.25,904.31 Z" fill="none" stroke="#e0393c" stroke-width="2.5" stroke-linejoin="miter"/><path d="M159.5,900.1H165.5" stroke="#e0393c" stroke-width="1.2"/><path d="M163.08,807.97 L170.83,820.47 L178.58,807.97 Z" fill="none" stroke="#1a8583" stroke-width="2.5"/><path d="M167.8,812.2H173.8" stroke="#1a8583" stroke-width="1.2"/><path d="M163.08,901.81 L170.83,889.31 L178.58,901.81 Z" fill="none" stroke="#e0393c" stroke-width="2.5" stroke-linejoin="miter"/><path d="M167.8,897.6H173.8" stroke="#e0393c" stroke-width="1.2"/><path d="M172.43,805.77 L180.18,818.27 L187.93,805.77 Z" fill="none" stroke="#1a8583" stroke-width="2.5"/><path d="M177.2,810.0H183.2" stroke="#1a8583" stroke-width="1.2"/><path d="M172.43,899.01 L180.18,886.51 L187.93,899.01 Z" fill="none" stroke="#e0393c" stroke-width="2.5" stroke-linejoin="miter"/><path d="M177.2,894.8H183.2" stroke="#e0393c" stroke-width="1.2"/><path d="M178.54,804.31 L186.29,816.81 L194.04,804.31 Z" fill="none" stroke="#1a8583" stroke-width="2.5"/><path d="M183.3,808.6H189.3" stroke="#1a8583" stroke-width="1.2"/><path d="M178.54,897.18 L186.29,884.68 L194.04,897.18 Z" fill="none" stroke="#e0393c" stroke-width="2.5" stroke-linejoin="miter"/><path d="M183.3,892.9H189.3" stroke="#e0393c" stroke-width="1.2"/><path d="M189.25,801.68 L197.00,814.18 L204.75,801.68 Z" fill="none" stroke="#1a8583" stroke-width="2.5"/><path d="M194.0,805.9H200.0" stroke="#1a8583" stroke-width="1.2"/><path d="M189.25,893.96 L197.00,881.46 L204.75,893.96 Z" fill="none" stroke="#e0393c" stroke-width="2.5" stroke-linejoin="miter"/><path d="M194.0,889.7H200.0" stroke="#e0393c" stroke-width="1.2"/><path d="M202.01,798.46 L209.76,810.96 L217.51,798.46 Z" fill="none" stroke="#1a8583" stroke-width="2.5"/><path d="M206.8,802.7H212.8" stroke="#1a8583" stroke-width="1.2"/><path d="M202.01,890.11 L209.76,877.61 L217.51,890.11 Z" fill="none" stroke="#e0393c" stroke-width="2.5" stroke-linejoin="miter"/><path d="M206.8,885.9H212.8" stroke="#e0393c" stroke-width="1.2"/><path d="M213.43,795.49 L221.18,807.99 L228.93,795.49 Z" fill="none" stroke="#1a8583" stroke-width="2.5"/><path d="M218.2,799.7H224.2" stroke="#1a8583" stroke-width="1.2"/><path d="M213.43,886.64 L221.18,874.14 L228.93,886.64 Z" fill="none" stroke="#e0393c" stroke-width="2.5" stroke-linejoin="miter"/><path d="M218.2,882.4H224.2" stroke="#e0393c" stroke-width="1.2"/><path d="M225.33,792.29 L233.08,804.79 L240.83,792.29 Z" fill="none" stroke="#1a8583" stroke-width="2.5"/><path d="M230.1,796.5H236.1" stroke="#1a8583" stroke-width="1.2"/><path d="M225.33,882.97 L233.08,870.47 L240.83,882.97 Z" fill="none" stroke="#e0393c" stroke-width="2.5" stroke-linejoin="miter"/><path d="M230.1,878.7H236.1" stroke="#e0393c" stroke-width="1.2"/><path d="M237.22,788.99 L244.97,801.49 L252.72,788.99 Z" fill="none" stroke="#1a8583" stroke-width="2.5"/><path d="M242.0,793.2H248.0" stroke="#1a8583" stroke-width="1.2"/><path d="M237.22,879.26 L244.97,866.76 L252.72,879.26 Z" fill="none" stroke="#e0393c" stroke-width="2.5" stroke-linejoin="miter"/><path d="M242.0,875.0H248.0" stroke="#e0393c" stroke-width="1.2"/><path d="M249.12,785.58 L256.87,798.08 L264.62,785.58 Z" fill="none" stroke="#1a8583" stroke-width="2.5"/><path d="M253.9,789.8H259.9" stroke="#1a8583" stroke-width="1.2"/><path d="M249.12,875.47 L256.87,862.97 L264.62,875.47 Z" fill="none" stroke="#e0393c" stroke-width="2.5" stroke-linejoin="miter"/><path d="M253.9,871.2H259.9" stroke="#e0393c" stroke-width="1.2"/><path d="M263.39,781.34 L271.14,793.84 L278.89,781.34 Z" fill="none" stroke="#1a8583" stroke-width="2.5"/><path d="M268.1,785.6H274.1" stroke="#1a8583" stroke-width="1.2"/><path d="M263.39,870.82 L271.14,858.32 L278.89,870.82 Z" fill="none" stroke="#e0393c" stroke-width="2.5" stroke-linejoin="miter"/><path d="M268.1,866.6H274.1" stroke="#e0393c" stroke-width="1.2"/><path d="M273.22,778.31 L280.97,790.81 L288.72,778.31 Z" fill="none" stroke="#1a8583" stroke-width="2.5"/><path d="M278.0,782.6H284.0" stroke="#1a8583" stroke-width="1.2"/><path d="M273.22,867.53 L280.97,855.03 L288.72,867.53 Z" fill="none" stroke="#e0393c" stroke-width="2.5" stroke-linejoin="miter"/><path d="M278.0,863.3H284.0" stroke="#e0393c" stroke-width="1.2"/><path d="M283.06,775.20 L290.81,787.70 L298.56,775.20 Z" fill="none" stroke="#1a8583" stroke-width="2.5"/><path d="M287.8,779.4H293.8" stroke="#1a8583" stroke-width="1.2"/><path d="M283.06,864.17 L290.81,851.67 L298.56,864.17 Z" fill="none" stroke="#e0393c" stroke-width="2.5" stroke-linejoin="miter"/><path d="M287.8,859.9H293.8" stroke="#e0393c" stroke-width="1.2"/><path d="M292.89,772.00 L300.64,784.50 L308.39,772.00 Z" fill="none" stroke="#1a8583" stroke-width="2.5"/><path d="M297.6,776.2H303.6" stroke="#1a8583" stroke-width="1.2"/><path d="M292.89,860.73 L300.64,848.23 L308.39,860.73 Z" fill="none" stroke="#e0393c" stroke-width="2.5" stroke-linejoin="miter"/><path d="M297.6,856.5H303.6" stroke="#e0393c" stroke-width="1.2"/><path d="M302.72,768.70 L310.47,781.20 L318.22,768.70 Z" fill="none" stroke="#1a8583" stroke-width="2.5"/><path d="M307.5,773.0H313.5" stroke="#1a8583" stroke-width="1.2"/><path d="M302.72,857.21 L310.47,844.71 L318.22,857.21 Z" fill="none" stroke="#e0393c" stroke-width="2.5" stroke-linejoin="miter"/><path d="M307.5,853.0H313.5" stroke="#e0393c" stroke-width="1.2"/><path d="M312.56,765.31 L320.31,777.81 L328.06,765.31 Z" fill="none" stroke="#1a8583" stroke-width="2.5"/><path d="M317.3,769.6H323.3" stroke="#1a8583" stroke-width="1.2"/><path d="M312.56,853.59 L320.31,841.09 L328.06,853.59 Z" fill="none" stroke="#e0393c" stroke-width="2.5" stroke-linejoin="miter"/><path d="M317.3,849.3H323.3" stroke="#e0393c" stroke-width="1.2"/><path d="M322.39,761.83 L330.14,774.33 L337.89,761.83 Z" fill="none" stroke="#1a8583" stroke-width="2.5"/><path d="M327.1,766.1H333.1" stroke="#1a8583" stroke-width="1.2"/><path d="M322.39,849.86 L330.14,837.36 L337.89,849.86 Z" fill="none" stroke="#e0393c" stroke-width="2.5" stroke-linejoin="miter"/><path d="M327.1,845.6H333.1" stroke="#e0393c" stroke-width="1.2"/><path d="M332.22,758.24 L339.97,770.74 L347.72,758.24 Z" fill="none" stroke="#1a8583" stroke-width="2.5"/><path d="M337.0,762.5H343.0" stroke="#1a8583" stroke-width="1.2"/><path d="M332.22,846.03 L339.97,833.53 L347.72,846.03 Z" fill="none" stroke="#e0393c" stroke-width="2.5" stroke-linejoin="miter"/><path d="M337.0,841.8H343.0" stroke="#e0393c" stroke-width="1.2"/><path d="M342.06,754.55 L349.81,767.05 L357.56,754.55 Z" fill="none" stroke="#1a8583" stroke-width="2.5"/><path d="M346.8,758.8H352.8" stroke="#1a8583" stroke-width="1.2"/><path d="M342.06,842.08 L349.81,829.58 L357.56,842.08 Z" fill="none" stroke="#e0393c" stroke-width="2.5" stroke-linejoin="miter"/><path d="M346.8,837.8H352.8" stroke="#e0393c" stroke-width="1.2"/><path d="M351.89,750.75 L359.64,763.25 L367.39,750.75 Z" fill="none" stroke="#1a8583" stroke-width="2.5"/><path d="M356.6,755.0H362.6" stroke="#1a8583" stroke-width="1.2"/><path d="M351.89,838.01 L359.64,825.51 L367.39,838.01 Z" fill="none" stroke="#e0393c" stroke-width="2.5" stroke-linejoin="miter"/><path d="M356.6,833.8H362.6" stroke="#e0393c" stroke-width="1.2"/><path d="M361.72,746.84 L369.47,759.34 L377.22,746.84 Z" fill="none" stroke="#1a8583" stroke-width="2.5"/><path d="M366.5,751.1H372.5" stroke="#1a8583" stroke-width="1.2"/><path d="M361.72,833.81 L369.47,821.31 L377.22,833.81 Z" fill="none" stroke="#e0393c" stroke-width="2.5" stroke-linejoin="miter"/><path d="M366.5,829.6H372.5" stroke="#e0393c" stroke-width="1.2"/><path d="M371.56,742.82 L379.31,755.32 L387.06,742.82 Z" fill="none" stroke="#1a8583" stroke-width="2.5"/><path d="M376.3,747.1H382.3" stroke="#1a8583" stroke-width="1.2"/><path d="M371.56,829.47 L379.31,816.97 L387.06,829.47 Z" fill="none" stroke="#e0393c" stroke-width="2.5" stroke-linejoin="miter"/><path d="M376.3,825.2H382.3" stroke="#e0393c" stroke-width="1.2"/><path d="M381.39,738.69 L389.14,751.19 L396.89,738.69 Z" fill="none" stroke="#1a8583" stroke-width="2.5"/><path d="M386.1,742.9H392.1" stroke="#1a8583" stroke-width="1.2"/><path d="M381.39,824.98 L389.14,812.48 L396.89,824.98 Z" fill="none" stroke="#e0393c" stroke-width="2.5" stroke-linejoin="miter"/><path d="M386.1,820.7H392.1" stroke="#e0393c" stroke-width="1.2"/><path d="M391.22,734.43 L398.97,746.93 L406.72,734.43 Z" fill="none" stroke="#1a8583" stroke-width="2.5"/><path d="M396.0,738.7H402.0" stroke="#1a8583" stroke-width="1.2"/><path d="M391.22,820.35 L398.97,807.85 L406.72,820.35 Z" fill="none" stroke="#e0393c" stroke-width="2.5" stroke-linejoin="miter"/><path d="M396.0,816.1H402.0" stroke="#e0393c" stroke-width="1.2"/><path d="M401.06,730.06 L408.81,742.56 L416.56,730.06 Z" fill="none" stroke="#1a8583" stroke-width="2.5"/><path d="M405.8,734.3H411.8" stroke="#1a8583" stroke-width="1.2"/><path d="M401.06,815.55 L408.81,803.05 L416.56,815.55 Z" fill="none" stroke="#e0393c" stroke-width="2.5" stroke-linejoin="miter"/><path d="M405.8,811.3H411.8" stroke="#e0393c" stroke-width="1.2"/><path d="M410.89,725.56 L418.64,738.06 L426.39,725.56 Z" fill="none" stroke="#1a8583" stroke-width="2.5"/><path d="M415.6,729.8H421.6" stroke="#1a8583" stroke-width="1.2"/><path d="M410.89,810.59 L418.64,798.09 L426.39,810.59 Z" fill="none" stroke="#e0393c" stroke-width="2.5" stroke-linejoin="miter"/><path d="M415.6,806.3H421.6" stroke="#e0393c" stroke-width="1.2"/><path d="M420.72,720.93 L428.47,733.43 L436.22,720.93 Z" fill="none" stroke="#1a8583" stroke-width="2.5"/><path d="M425.5,725.2H431.5" stroke="#1a8583" stroke-width="1.2"/><path d="M420.72,805.46 L428.47,792.96 L436.22,805.46 Z" fill="none" stroke="#e0393c" stroke-width="2.5" stroke-linejoin="miter"/><path d="M425.5,801.2H431.5" stroke="#e0393c" stroke-width="1.2"/><path d="M430.56,716.17 L438.31,728.67 L446.06,716.17 Z" fill="none" stroke="#1a8583" stroke-width="2.5"/><path d="M435.3,720.4H441.3" stroke="#1a8583" stroke-width="1.2"/><path d="M430.56,800.14 L438.31,787.64 L446.06,800.14 Z" fill="none" stroke="#e0393c" stroke-width="2.5" stroke-linejoin="miter"/><path d="M435.3,795.9H441.3" stroke="#e0393c" stroke-width="1.2"/><path d="M440.39,711.28 L448.14,723.78 L455.89,711.28 Z" fill="none" stroke="#1a8583" stroke-width="2.5"/><path d="M445.1,715.5H451.1" stroke="#1a8583" stroke-width="1.2"/><path d="M440.39,794.63 L448.14,782.13 L455.89,794.63 Z" fill="none" stroke="#e0393c" stroke-width="2.5" stroke-linejoin="miter"/><path d="M445.1,790.4H451.1" stroke="#e0393c" stroke-width="1.2"/><path d="M450.22,706.26 L457.97,718.76 L465.72,706.26 Z" fill="none" stroke="#1a8583" stroke-width="2.5"/><path d="M455.0,710.5H461.0" stroke="#1a8583" stroke-width="1.2"/><path d="M450.22,788.94 L457.97,776.44 L465.72,788.94 Z" fill="none" stroke="#e0393c" stroke-width="2.5" stroke-linejoin="miter"/><path d="M455.0,784.7H461.0" stroke="#e0393c" stroke-width="1.2"/><path d="M460.05,701.09 L467.80,713.59 L475.55,701.09 Z" fill="none" stroke="#1a8583" stroke-width="2.5"/><path d="M464.8,705.3H470.8" stroke="#1a8583" stroke-width="1.2"/><path d="M460.05,783.03 L467.80,770.53 L475.55,783.03 Z" fill="none" stroke="#e0393c" stroke-width="2.5" stroke-linejoin="miter"/><path d="M464.8,778.8H470.8" stroke="#e0393c" stroke-width="1.2"/><path d="M469.89,695.79 L477.64,708.29 L485.39,695.79 Z" fill="none" stroke="#1a8583" stroke-width="2.5"/><path d="M474.6,700.0H480.6" stroke="#1a8583" stroke-width="1.2"/><path d="M469.89,776.92 L477.64,764.42 L485.39,776.92 Z" fill="none" stroke="#e0393c" stroke-width="2.5" stroke-linejoin="miter"/><path d="M474.6,772.7H480.6" stroke="#e0393c" stroke-width="1.2"/><path d="M479.72,690.33 L487.47,702.83 L495.22,690.33 Z" fill="none" stroke="#1a8583" stroke-width="2.5"/><path d="M484.5,694.6H490.5" stroke="#1a8583" stroke-width="1.2"/><path d="M479.72,770.60 L487.47,758.10 L495.22,770.60 Z" fill="none" stroke="#e0393c" stroke-width="2.5" stroke-linejoin="miter"/><path d="M484.5,766.3H490.5" stroke="#e0393c" stroke-width="1.2"/><path d="M489.55,684.73 L497.30,697.23 L505.05,684.73 Z" fill="none" stroke="#1a8583" stroke-width="2.5"/><path d="M494.3,689.0H500.3" stroke="#1a8583" stroke-width="1.2"/><path d="M489.55,764.05 L497.30,751.55 L505.05,764.05 Z" fill="none" stroke="#e0393c" stroke-width="2.5" stroke-linejoin="miter"/><path d="M494.3,759.8H500.3" stroke="#e0393c" stroke-width="1.2"/><path d="M499.39,678.98 L507.14,691.48 L514.89,678.98 Z" fill="none" stroke="#1a8583" stroke-width="2.5"/><path d="M504.1,683.2H510.1" stroke="#1a8583" stroke-width="1.2"/><path d="M499.39,757.26 L507.14,744.76 L514.89,757.26 Z" fill="none" stroke="#e0393c" stroke-width="2.5" stroke-linejoin="miter"/><path d="M504.1,753.0H510.1" stroke="#e0393c" stroke-width="1.2"/><path d="M509.22,673.08 L516.97,685.58 L524.72,673.08 Z" fill="none" stroke="#1a8583" stroke-width="2.5"/><path d="M514.0,677.3H520.0" stroke="#1a8583" stroke-width="1.2"/><path d="M509.22,750.24 L516.97,737.74 L524.72,750.24 Z" fill="none" stroke="#e0393c" stroke-width="2.5" stroke-linejoin="miter"/><path d="M514.0,746.0H520.0" stroke="#e0393c" stroke-width="1.2"/><path d="M519.05,667.02 L526.80,679.52 L534.55,667.02 Z" fill="none" stroke="#1a8583" stroke-width="2.5"/><path d="M523.8,671.3H529.8" stroke="#1a8583" stroke-width="1.2"/><path d="M519.05,742.98 L526.80,730.48 L534.55,742.98 Z" fill="none" stroke="#e0393c" stroke-width="2.5" stroke-linejoin="miter"/><path d="M523.8,738.7H529.8" stroke="#e0393c" stroke-width="1.2"/><path d="M528.89,660.80 L536.64,673.30 L544.39,660.80 Z" fill="none" stroke="#1a8583" stroke-width="2.5"/><path d="M533.6,665.0H539.6" stroke="#1a8583" stroke-width="1.2"/><path d="M528.89,735.46 L536.64,722.96 L544.39,735.46 Z" fill="none" stroke="#e0393c" stroke-width="2.5" stroke-linejoin="miter"/><path d="M533.6,731.2H539.6" stroke="#e0393c" stroke-width="1.2"/><path d="M538.72,654.42 L546.47,666.92 L554.22,654.42 Z" fill="none" stroke="#1a8583" stroke-width="2.5"/><path d="M543.5,658.7H549.5" stroke="#1a8583" stroke-width="1.2"/><path d="M538.72,727.69 L546.47,715.19 L554.22,727.69 Z" fill="none" stroke="#e0393c" stroke-width="2.5" stroke-linejoin="miter"/><path d="M543.5,723.4H549.5" stroke="#e0393c" stroke-width="1.2"/><path d="M548.55,647.87 L556.30,660.37 L564.05,647.87 Z" fill="none" stroke="#1a8583" stroke-width="2.5"/><path d="M553.3,652.1H559.3" stroke="#1a8583" stroke-width="1.2"/><path d="M548.55,719.64 L556.30,707.14 L564.05,719.64 Z" fill="none" stroke="#e0393c" stroke-width="2.5" stroke-linejoin="miter"/><path d="M553.3,715.4H559.3" stroke="#e0393c" stroke-width="1.2"/><path d="M558.39,641.15 L566.14,653.65 L573.89,641.15 Z" fill="none" stroke="#1a8583" stroke-width="2.5"/><path d="M563.1,645.4H569.1" stroke="#1a8583" stroke-width="1.2"/><path d="M558.39,711.33 L566.14,698.83 L573.89,711.33 Z" fill="none" stroke="#e0393c" stroke-width="2.5" stroke-linejoin="miter"/><path d="M563.1,707.1H569.1" stroke="#e0393c" stroke-width="1.2"/></g>
<line x1="158.00" y1="778.00" x2="227.50" y2="778.00" stroke="#1a8583" stroke-width="1.8" />
<path d="M150.00,778.00 L160.00,774.00 L160.00,782.00 Z" fill="#1a8583"/>
<line x1="150.00" y1="861.30" x2="219.00" y2="861.30" stroke="#e0393c" stroke-width="1.8" />
<path d="M227.50,861.30 L217.50,865.30 L217.50,857.30 Z" fill="#e0393c"/>
<line x1="162.50" y1="902.00" x2="162.50" y2="932.00" stroke="#000" stroke-width="1.5" />
<line x1="261.62" y1="875.00" x2="261.62" y2="932.00" stroke="#000" stroke-width="1.5" />
<line x1="360.75" y1="840.00" x2="360.75" y2="932.00" stroke="#000" stroke-width="1.5" />
<line x1="459.88" y1="791.00" x2="459.88" y2="932.00" stroke="#000" stroke-width="1.5" />
<line x1="559.00" y1="719.00" x2="559.00" y2="932.00" stroke="#000" stroke-width="1.5" />
<line x1="162.50" y1="932.00" x2="255.62" y2="932.00" stroke="#000" stroke-width="1.5" />
<path d="M261.62,932.00 L251.62,935.50 L251.62,928.50 Z" fill="#000"/>
<line x1="261.62" y1="932.00" x2="354.75" y2="932.00" stroke="#000" stroke-width="1.5" />
<path d="M360.75,932.00 L350.75,935.50 L350.75,928.50 Z" fill="#000"/>
<line x1="360.75" y1="932.00" x2="453.88" y2="932.00" stroke="#000" stroke-width="1.5" />
<path d="M459.88,932.00 L449.88,935.50 L449.88,928.50 Z" fill="#000"/>
<line x1="459.88" y1="932.00" x2="553.00" y2="932.00" stroke="#000" stroke-width="1.5" />
<path d="M559.00,932.00 L549.00,935.50 L549.00,928.50 Z" fill="#000"/>
<text x="180.00" y="924.00" font-family="'Liberation Sans', Arial, sans-serif" font-size="20.5" font-weight="bold" fill="#000" text-anchor="start" >Stage <tspan font-family="'Liberation Serif', 'Times New Roman', serif">I</tspan></text>
<text x="276.50" y="924.00" font-family="'Liberation Sans', Arial, sans-serif" font-size="20.5" font-weight="bold" fill="#000" text-anchor="start" >Stage <tspan font-family="'Liberation Serif', 'Times New Roman', serif">II</tspan></text>
<text x="370.00" y="924.00" font-family="'Liberation Sans', Arial, sans-serif" font-size="20.5" font-weight="bold" fill="#000" text-anchor="start" >Stage <tspan font-family="'Liberation Serif', 'Times New Roman', serif">III</tspan></text>
<text x="470.00" y="924.00" font-family="'Liberation Sans', Arial, sans-serif" font-size="20.5" font-weight="bold" fill="#000" text-anchor="start" >Stage <tspan font-family="'Liberation Serif', 'Times New Roman', serif">IV</tspan></text>
<text x="162.00" y="954.00" font-family="'Liberation Sans', Arial, sans-serif" font-size="19.5" font-weight="bold" fill="#000" text-anchor="middle" >0%</text>
<text x="263.00" y="954.00" font-family="'Liberation Sans', Arial, sans-serif" font-size="19.5" font-weight="bold" fill="#000" text-anchor="middle" >12.5%</text>
<text x="358.60" y="954.00" font-family="'Liberation Sans', Arial, sans-serif" font-size="19.5" font-weight="bold" fill="#000" text-anchor="middle" >25%</text>
<text x="464.00" y="954.00" font-family="'Liberation Sans', Arial, sans-serif" font-size="19.5" font-weight="bold" fill="#000" text-anchor="middle" >37.5%</text>
<text x="548.00" y="954.00" font-family="'Liberation Sans', Arial, sans-serif" font-size="19.5" font-weight="bold" fill="#000" text-anchor="middle" >50%</text>
<text x="19.00" y="589.00" font-family="'Liberation Sans', Arial, sans-serif" font-size="29" font-weight="bold" fill="#000" text-anchor="start" >b</text>
<rect x="723.8" y="597.8" width="472.9000000000001" height="382.6" fill="none" stroke="#000" stroke-width="3.5"/>
<line x1="729.30" y1="980.40" x2="729.30" y2="976.90" stroke="#000" stroke-width="2" />
<line x1="758.50" y1="980.40" x2="758.50" y2="974.40" stroke="#000" stroke-width="2" />
<line x1="787.70" y1="980.40" x2="787.70" y2="976.90" stroke="#000" stroke-width="2" />
<line x1="816.90" y1="980.40" x2="816.90" y2="974.40" stroke="#000" stroke-width="2" />
<line x1="846.10" y1="980.40" x2="846.10" y2="976.90" stroke="#000" stroke-width="2" />
<line x1="875.30" y1="980.40" x2="875.30" y2="974.40" stroke="#000" stroke-width="2" />
<line x1="904.50" y1="980.40" x2="904.50" y2="976.90" stroke="#000" stroke-width="2" />
<line x1="933.70" y1="980.40" x2="933.70" y2="974.40" stroke="#000" stroke-width="2" />
<line x1="962.90" y1="980.40" x2="962.90" y2="976.90" stroke="#000" stroke-width="2" />
<line x1="992.10" y1="980.40" x2="992.10" y2="974.40" stroke="#000" stroke-width="2" />
<line x1="1021.30" y1="980.40" x2="1021.30" y2="976.90" stroke="#000" stroke-width="2" />
<line x1="1050.50" y1="980.40" x2="1050.50" y2="974.40" stroke="#000" stroke-width="2" />
<line x1="1079.70" y1="980.40" x2="1079.70" y2="976.90" stroke="#000" stroke-width="2" />
<line x1="1108.90" y1="980.40" x2="1108.90" y2="974.40" stroke="#000" stroke-width="2" />
<line x1="1138.10" y1="980.40" x2="1138.10" y2="976.90" stroke="#000" stroke-width="2" />
<line x1="1167.30" y1="980.40" x2="1167.30" y2="974.40" stroke="#000" stroke-width="2" />
<text x="758.50" y="1004.70" font-family="'Liberation Sans', Arial, sans-serif" font-size="24" font-weight="bold" fill="#000" text-anchor="middle" >0</text>
<text x="816.90" y="1004.70" font-family="'Liberation Sans', Arial, sans-serif" font-size="24" font-weight="bold" fill="#000" text-anchor="middle" >500</text>
<text x="875.30" y="1004.70" font-family="'Liberation Sans', Arial, sans-serif" font-size="24" font-weight="bold" fill="#000" text-anchor="middle" >1000</text>
<text x="933.70" y="1004.70" font-family="'Liberation Sans', Arial, sans-serif" font-size="24" font-weight="bold" fill="#000" text-anchor="middle" >1500</text>
<text x="992.10" y="1004.70" font-family="'Liberation Sans', Arial, sans-serif" font-size="24" font-weight="bold" fill="#000" text-anchor="middle" >2000</text>
<text x="1050.50" y="1004.70" font-family="'Liberation Sans', Arial, sans-serif" font-size="24" font-weight="bold" fill="#000" text-anchor="middle" >2500</text>
<text x="1108.90" y="1004.70" font-family="'Liberation Sans', Arial, sans-serif" font-size="24" font-weight="bold" fill="#000" text-anchor="middle" >3000</text>
<text x="1167.30" y="1004.70" font-family="'Liberation Sans', Arial, sans-serif" font-size="24" font-weight="bold" fill="#000" text-anchor="middle" >3500</text>
<line x1="1196.70" y1="963.50" x2="1193.20" y2="963.50" stroke="#000" stroke-width="2" />
<line x1="1196.70" y1="931.00" x2="1190.70" y2="931.00" stroke="#000" stroke-width="2" />
<line x1="1196.70" y1="898.50" x2="1193.20" y2="898.50" stroke="#000" stroke-width="2" />
<line x1="1196.70" y1="866.00" x2="1190.70" y2="866.00" stroke="#000" stroke-width="2" />
<line x1="1196.70" y1="833.50" x2="1193.20" y2="833.50" stroke="#000" stroke-width="2" />
<line x1="1196.70" y1="801.00" x2="1190.70" y2="801.00" stroke="#000" stroke-width="2" />
<line x1="1196.70" y1="768.50" x2="1193.20" y2="768.50" stroke="#000" stroke-width="2" />
<line x1="1196.70" y1="736.00" x2="1190.70" y2="736.00" stroke="#000" stroke-width="2" />
<line x1="1196.70" y1="703.50" x2="1193.20" y2="703.50" stroke="#000" stroke-width="2" />
<line x1="1196.70" y1="671.00" x2="1190.70" y2="671.00" stroke="#000" stroke-width="2" />
<line x1="1196.70" y1="638.50" x2="1193.20" y2="638.50" stroke="#000" stroke-width="2" />
<line x1="1196.70" y1="606.00" x2="1190.70" y2="606.00" stroke="#000" stroke-width="2" />
<text x="1201.50" y="939.20" font-family="'Liberation Sans', Arial, sans-serif" font-size="24.2" font-weight="bold" fill="#000" text-anchor="start" >0</text>
<text x="1201.50" y="874.20" font-family="'Liberation Sans', Arial, sans-serif" font-size="24.2" font-weight="bold" fill="#000" text-anchor="start" >8</text>
<text x="1201.50" y="809.20" font-family="'Liberation Sans', Arial, sans-serif" font-size="24.2" font-weight="bold" fill="#000" text-anchor="start" >16</text>
<text x="1201.50" y="744.20" font-family="'Liberation Sans', Arial, sans-serif" font-size="24.2" font-weight="bold" fill="#000" text-anchor="start" >24</text>
<text x="1201.50" y="679.20" font-family="'Liberation Sans', Arial, sans-serif" font-size="24.2" font-weight="bold" fill="#000" text-anchor="start" >32</text>
<text x="1201.50" y="614.20" font-family="'Liberation Sans', Arial, sans-serif" font-size="24.2" font-weight="bold" fill="#000" text-anchor="start" >40</text>
<text x="960.00" y="1037.50" font-family="'Liberation Sans', Arial, sans-serif" font-size="26.7" font-weight="bold" fill="#000" text-anchor="middle" xml:space="preserve">Reverse-transported Cl<tspan dy="-10" font-size="17">−</tspan><tspan dy="10">  (mg L</tspan><tspan dy="-10" font-size="17">−1</tspan><tspan dy="10">)</tspan></text>
<text x="1257.00" y="789.40" font-family="'Liberation Sans', Arial, sans-serif" font-size="26.9" font-weight="bold" fill="#000" text-anchor="middle" transform="rotate(-90 1257.00 789.40)" >Free chlorine generation (mg L<tspan dy="-10" font-size="17">−1</tspan><tspan dy="10"> Cl</tspan><tspan dy="5" font-size="17">2</tspan><tspan dy="-5">)</tspan></text>
<path d="M758.50,931.00 L774.85,931.00 L793.54,931.00 L820.64,931.00 L852.52,931.00 L893.29,931.00 L1000.16,931.00 L1155.62,931.00" fill="none" stroke="#e04646" stroke-width="2.4" stroke-dasharray="3.5 5.5"/>
<path d="M758.50,931.00 L774.85,928.16 L793.54,926.12 L820.64,926.94 L852.52,926.53 L893.29,926.12 L1000.16,919.62 L1155.62,904.59" fill="none" stroke="#2a6fd0" stroke-width="2.4" stroke-dasharray="3.5 5.5"/>
<path d="M758.50,931.00 L774.85,918.81 L793.54,918.81 L820.64,912.31 L852.52,904.59 L893.29,901.34 L1000.16,876.56 L1155.62,832.69" fill="none" stroke="#b073dd" stroke-width="2.4" stroke-dasharray="3.5 5.5"/>
<path d="M758.50,931.00 L774.85,896.88 L793.54,882.25 L820.64,864.38 L852.52,841.62 L893.29,828.22 L1000.16,787.19 L1155.62,726.25" fill="none" stroke="#3aa66a" stroke-width="2.4" stroke-dasharray="3.5 5.5"/>
<path d="M758.50,931.00 L774.85,860.31 L793.54,848.12 L820.64,818.06 L852.52,790.44 L893.29,773.38 L1000.16,723.81 L1155.62,646.62" fill="none" stroke="#d4a017" stroke-width="2.4" stroke-dasharray="3.5 5.5"/>
<g><path d="M758.50,921.50 L768.00,931.00 L758.50,940.50 L749.00,931.00 Z" fill="none" stroke="#e04646" stroke-width="2.6"/><path d="M774.85,921.50 L784.35,931.00 L774.85,940.50 L765.35,931.00 Z" fill="none" stroke="#e04646" stroke-width="2.6"/><path d="M793.54,921.50 L803.04,931.00 L793.54,940.50 L784.04,931.00 Z" fill="none" stroke="#e04646" stroke-width="2.6"/><path d="M820.64,921.50 L830.14,931.00 L820.64,940.50 L811.14,931.00 Z" fill="none" stroke="#e04646" stroke-width="2.6"/><path d="M852.52,921.50 L862.02,931.00 L852.52,940.50 L843.02,931.00 Z" fill="none" stroke="#e04646" stroke-width="2.6"/><path d="M893.29,921.50 L902.79,931.00 L893.29,940.50 L883.79,931.00 Z" fill="none" stroke="#e04646" stroke-width="2.6"/><path d="M1000.16,921.50 L1009.66,931.00 L1000.16,940.50 L990.66,931.00 Z" fill="none" stroke="#e04646" stroke-width="2.6"/><path d="M1155.62,921.50 L1165.12,931.00 L1155.62,940.50 L1146.12,931.00 Z" fill="none" stroke="#e04646" stroke-width="2.6"/><path d="M749.00,938.00 L758.50,922.00 L768.00,938.00 Z" fill="none" stroke="#2a6fd0" stroke-width="2.6" stroke-linejoin="miter"/><path d="M755.5,932.0H761.5" stroke="#2a6fd0" stroke-width="1.6"/><path d="M765.35,935.16 L774.85,919.16 L784.35,935.16 Z" fill="none" stroke="#2a6fd0" stroke-width="2.6" stroke-linejoin="miter"/><path d="M771.9,929.2H777.9" stroke="#2a6fd0" stroke-width="1.6"/><path d="M784.04,933.12 L793.54,917.12 L803.04,933.12 Z" fill="none" stroke="#2a6fd0" stroke-width="2.6" stroke-linejoin="miter"/><path d="M790.5,927.1H796.5" stroke="#2a6fd0" stroke-width="1.6"/><path d="M811.14,933.94 L820.64,917.94 L830.14,933.94 Z" fill="none" stroke="#2a6fd0" stroke-width="2.6" stroke-linejoin="miter"/><path d="M817.6,927.9H823.6" stroke="#2a6fd0" stroke-width="1.6"/><path d="M843.02,933.53 L852.52,917.53 L862.02,933.53 Z" fill="none" stroke="#2a6fd0" stroke-width="2.6" stroke-linejoin="miter"/><path d="M849.5,927.5H855.5" stroke="#2a6fd0" stroke-width="1.6"/><path d="M883.79,933.12 L893.29,917.12 L902.79,933.12 Z" fill="none" stroke="#2a6fd0" stroke-width="2.6" stroke-linejoin="miter"/><path d="M890.3,927.1H896.3" stroke="#2a6fd0" stroke-width="1.6"/><path d="M990.66,926.62 L1000.16,910.62 L1009.66,926.62 Z" fill="none" stroke="#2a6fd0" stroke-width="2.6" stroke-linejoin="miter"/><path d="M997.2,920.6H1003.2" stroke="#2a6fd0" stroke-width="1.6"/><path d="M1146.12,911.59 L1155.62,895.59 L1165.12,911.59 Z" fill="none" stroke="#2a6fd0" stroke-width="2.6" stroke-linejoin="miter"/><path d="M1152.6,905.6H1158.6" stroke="#2a6fd0" stroke-width="1.6"/><path d="M749.00,924.00 L758.50,940.00 L768.00,924.00 Z" fill="none" stroke="#b073dd" stroke-width="2.6"/><path d="M755.5,930.0H761.5" stroke="#b073dd" stroke-width="1.6"/><path d="M765.35,911.81 L774.85,927.81 L784.35,911.81 Z" fill="none" stroke="#b073dd" stroke-width="2.6"/><path d="M771.9,917.8H777.9" stroke="#b073dd" stroke-width="1.6"/><path d="M784.04,911.81 L793.54,927.81 L803.04,911.81 Z" fill="none" stroke="#b073dd" stroke-width="2.6"/><path d="M790.5,917.8H796.5" stroke="#b073dd" stroke-width="1.6"/><path d="M811.14,905.31 L820.64,921.31 L830.14,905.31 Z" fill="none" stroke="#b073dd" stroke-width="2.6"/><path d="M817.6,911.3H823.6" stroke="#b073dd" stroke-width="1.6"/><path d="M843.02,897.59 L852.52,913.59 L862.02,897.59 Z" fill="none" stroke="#b073dd" stroke-width="2.6"/><path d="M849.5,903.6H855.5" stroke="#b073dd" stroke-width="1.6"/><path d="M883.79,894.34 L893.29,910.34 L902.79,894.34 Z" fill="none" stroke="#b073dd" stroke-width="2.6"/><path d="M890.3,900.3H896.3" stroke="#b073dd" stroke-width="1.6"/><path d="M990.66,869.56 L1000.16,885.56 L1009.66,869.56 Z" fill="none" stroke="#b073dd" stroke-width="2.6"/><path d="M997.2,875.6H1003.2" stroke="#b073dd" stroke-width="1.6"/><path d="M1146.12,825.69 L1155.62,841.69 L1165.12,825.69 Z" fill="none" stroke="#b073dd" stroke-width="2.6"/><path d="M1152.6,831.7H1158.6" stroke="#b073dd" stroke-width="1.6"/><circle cx="758.50" cy="931.00" r="7.80" fill="none" stroke="#3aa66a" stroke-width="2.6"/><path d="M758.50,927.50 V934.50 M756.30,927.50 H760.70 M756.30,934.50 H760.70" stroke="#3aa66a" stroke-width="1.4" fill="none"/><circle cx="774.85" cy="896.88" r="7.80" fill="none" stroke="#3aa66a" stroke-width="2.6"/><path d="M774.85,893.38 V900.38 M772.65,893.38 H777.05 M772.65,900.38 H777.05" stroke="#3aa66a" stroke-width="1.4" fill="none"/><circle cx="793.54" cy="882.25" r="7.80" fill="none" stroke="#3aa66a" stroke-width="2.6"/><path d="M793.54,878.75 V885.75 M791.34,878.75 H795.74 M791.34,885.75 H795.74" stroke="#3aa66a" stroke-width="1.4" fill="none"/><circle cx="820.64" cy="864.38" r="7.80" fill="none" stroke="#3aa66a" stroke-width="2.6"/><path d="M820.64,860.88 V867.88 M818.44,860.88 H822.84 M818.44,867.88 H822.84" stroke="#3aa66a" stroke-width="1.4" fill="none"/><circle cx="852.52" cy="841.62" r="7.80" fill="none" stroke="#3aa66a" stroke-width="2.6"/><path d="M852.52,838.12 V845.12 M850.32,838.12 H854.72 M850.32,845.12 H854.72" stroke="#3aa66a" stroke-width="1.4" fill="none"/><circle cx="893.29" cy="828.22" r="7.80" fill="none" stroke="#3aa66a" stroke-width="2.6"/><path d="M893.29,824.72 V831.72 M891.09,824.72 H895.49 M891.09,831.72 H895.49" stroke="#3aa66a" stroke-width="1.4" fill="none"/><circle cx="1000.16" cy="787.19" r="7.80" fill="none" stroke="#3aa66a" stroke-width="2.6"/><path d="M1000.16,783.69 V790.69 M997.96,783.69 H1002.36 M997.96,790.69 H1002.36" stroke="#3aa66a" stroke-width="1.4" fill="none"/><circle cx="1155.62" cy="726.25" r="7.80" fill="none" stroke="#3aa66a" stroke-width="2.6"/><path d="M1155.62,722.75 V729.75 M1153.42,722.75 H1157.82 M1153.42,729.75 H1157.82" stroke="#3aa66a" stroke-width="1.4" fill="none"/><path d="M767.00,921.50 L750.00,931.00 L767.00,940.50 Z" fill="none" stroke="#d4a017" stroke-width="2.6"/><path d="M761.50,926.00 V936.00 M759.30,926.00 H763.70 M759.30,936.00 H763.70" stroke="#d4a017" stroke-width="1.4" fill="none"/><path d="M783.35,850.81 L766.35,860.31 L783.35,869.81 Z" fill="none" stroke="#d4a017" stroke-width="2.6"/><path d="M777.85,855.31 V865.31 M775.65,855.31 H780.05 M775.65,865.31 H780.05" stroke="#d4a017" stroke-width="1.4" fill="none"/><path d="M802.04,838.62 L785.04,848.12 L802.04,857.62 Z" fill="none" stroke="#d4a017" stroke-width="2.6"/><path d="M796.54,843.12 V853.12 M794.34,843.12 H798.74 M794.34,853.12 H798.74" stroke="#d4a017" stroke-width="1.4" fill="none"/><path d="M829.14,808.56 L812.14,818.06 L829.14,827.56 Z" fill="none" stroke="#d4a017" stroke-width="2.6"/><path d="M823.64,813.06 V823.06 M821.44,813.06 H825.84 M821.44,823.06 H825.84" stroke="#d4a017" stroke-width="1.4" fill="none"/><path d="M861.02,780.94 L844.02,790.44 L861.02,799.94 Z" fill="none" stroke="#d4a017" stroke-width="2.6"/><path d="M855.52,785.44 V795.44 M853.32,785.44 H857.72 M853.32,795.44 H857.72" stroke="#d4a017" stroke-width="1.4" fill="none"/><path d="M901.79,763.88 L884.79,773.38 L901.79,782.88 Z" fill="none" stroke="#d4a017" stroke-width="2.6"/><path d="M896.29,768.38 V778.38 M894.09,768.38 H898.49 M894.09,778.38 H898.49" stroke="#d4a017" stroke-width="1.4" fill="none"/><path d="M1008.66,714.31 L991.66,723.81 L1008.66,733.31 Z" fill="none" stroke="#d4a017" stroke-width="2.6"/><path d="M1003.16,718.81 V728.81 M1000.96,718.81 H1005.36 M1000.96,728.81 H1005.36" stroke="#d4a017" stroke-width="1.4" fill="none"/><path d="M1164.12,637.12 L1147.12,646.62 L1164.12,656.12 Z" fill="none" stroke="#d4a017" stroke-width="2.6"/><path d="M1158.62,641.62 V651.62 M1156.42,641.62 H1160.82 M1156.42,651.62 H1160.82" stroke="#d4a017" stroke-width="1.4" fill="none"/></g>
<line x1="758.50" y1="639.50" x2="758.50" y2="921.00" stroke="#000" stroke-width="1.5" />
<line x1="820.64" y1="639.50" x2="820.64" y2="803.00" stroke="#000" stroke-width="1.5" />
<line x1="893.29" y1="639.50" x2="893.29" y2="760.00" stroke="#000" stroke-width="1.5" />
<line x1="1000.16" y1="639.50" x2="1000.16" y2="712.00" stroke="#000" stroke-width="1.5" />
<line x1="758.50" y1="639.50" x2="814.64" y2="639.50" stroke="#000" stroke-width="1.5" />
<path d="M820.64,639.50 L810.64,643.00 L810.64,636.00 Z" fill="#000"/>
<line x1="820.64" y1="639.50" x2="887.29" y2="639.50" stroke="#000" stroke-width="1.5" />
<path d="M893.29,639.50 L883.29,643.00 L883.29,636.00 Z" fill="#000"/>
<line x1="893.29" y1="639.50" x2="994.16" y2="639.50" stroke="#000" stroke-width="1.5" />
<path d="M1000.16,639.50 L990.16,643.00 L990.16,636.00 Z" fill="#000"/>
<line x1="1000.16" y1="639.50" x2="1149.62" y2="639.50" stroke="#000" stroke-width="1.5" />
<path d="M1155.62,639.50 L1145.62,643.00 L1145.62,636.00 Z" fill="#000"/>
<text x="758.00" y="628.70" font-family="'Liberation Sans', Arial, sans-serif" font-size="18.5" font-weight="bold" fill="#000" text-anchor="start" >Stage <tspan font-family="'Liberation Serif', 'Times New Roman', serif">I</tspan></text>
<text x="826.00" y="628.70" font-family="'Liberation Sans', Arial, sans-serif" font-size="18.5" font-weight="bold" fill="#000" text-anchor="start" >Stage <tspan font-family="'Liberation Serif', 'Times New Roman', serif">II</tspan></text>
<text x="912.00" y="628.70" font-family="'Liberation Sans', Arial, sans-serif" font-size="18.5" font-weight="bold" fill="#000" text-anchor="start" >Stage <tspan font-family="'Liberation Serif', 'Times New Roman', serif">III</tspan></text>
<text x="1034.00" y="628.70" font-family="'Liberation Sans', Arial, sans-serif" font-size="18.5" font-weight="bold" fill="#000" text-anchor="start" >Stage <tspan font-family="'Liberation Serif', 'Times New Roman', serif">IV</tspan></text>
<text x="1010.00" y="713.00" font-family="'Liberation Sans', Arial, sans-serif" font-size="20.2" font-weight="normal" fill="#000" text-anchor="start" transform="rotate(-24 1010.00 713.00)" stroke="#000" stroke-width="0.35">9.80 mA cm<tspan dy="-9.5" font-size="14">−2</tspan></text>
<text x="1025.00" y="768.00" font-family="'Liberation Sans', Arial, sans-serif" font-size="20.2" font-weight="normal" fill="#000" text-anchor="start" transform="rotate(-19.5 1025.00 768.00)" stroke="#000" stroke-width="0.35">7.84 mA cm<tspan dy="-9.5" font-size="14">−2</tspan></text>
<text x="1034.00" y="855.00" font-family="'Liberation Sans', Arial, sans-serif" font-size="20.2" font-weight="normal" fill="#000" text-anchor="start" transform="rotate(-14 1034.00 855.00)" stroke="#000" stroke-width="0.35">5.88 mA cm<tspan dy="-9.5" font-size="14">−2</tspan></text>
<text x="1037.00" y="908.00" font-family="'Liberation Sans', Arial, sans-serif" font-size="20.2" font-weight="normal" fill="#000" text-anchor="start" transform="rotate(-6.3 1037.00 908.00)" stroke="#000" stroke-width="0.35">3.92 mA cm<tspan dy="-9.5" font-size="14">−2</tspan></text>
<text x="1035.50" y="965.30" font-family="'Liberation Sans', Arial, sans-serif" font-size="20.2" font-weight="normal" fill="#000" text-anchor="start" transform="rotate(0 1035.50 965.30)" stroke="#000" stroke-width="0.35">1.96 mA cm<tspan dy="-9.5" font-size="14">−2</tspan></text>
<text x="698.50" y="589.00" font-family="'Liberation Sans', Arial, sans-serif" font-size="29" font-weight="bold" fill="#000" text-anchor="start" >c</text>
<rect x="119.0" y="1063.0" width="477.25" height="382.0" fill="none" stroke="#000" stroke-width="3.5"/>
<line x1="125.30" y1="1445.00" x2="125.30" y2="1441.50" stroke="#000" stroke-width="2" />
<line x1="154.50" y1="1445.00" x2="154.50" y2="1439.00" stroke="#000" stroke-width="2" />
<line x1="183.70" y1="1445.00" x2="183.70" y2="1441.50" stroke="#000" stroke-width="2" />
<line x1="212.90" y1="1445.00" x2="212.90" y2="1439.00" stroke="#000" stroke-width="2" />
<line x1="242.10" y1="1445.00" x2="242.10" y2="1441.50" stroke="#000" stroke-width="2" />
<line x1="271.30" y1="1445.00" x2="271.30" y2="1439.00" stroke="#000" stroke-width="2" />
<line x1="300.50" y1="1445.00" x2="300.50" y2="1441.50" stroke="#000" stroke-width="2" />
<line x1="329.70" y1="1445.00" x2="329.70" y2="1439.00" stroke="#000" stroke-width="2" />
<line x1="358.90" y1="1445.00" x2="358.90" y2="1441.50" stroke="#000" stroke-width="2" />
<line x1="388.10" y1="1445.00" x2="388.10" y2="1439.00" stroke="#000" stroke-width="2" />
<line x1="417.30" y1="1445.00" x2="417.30" y2="1441.50" stroke="#000" stroke-width="2" />
<line x1="446.50" y1="1445.00" x2="446.50" y2="1439.00" stroke="#000" stroke-width="2" />
<line x1="475.70" y1="1445.00" x2="475.70" y2="1441.50" stroke="#000" stroke-width="2" />
<line x1="504.90" y1="1445.00" x2="504.90" y2="1439.00" stroke="#000" stroke-width="2" />
<line x1="534.10" y1="1445.00" x2="534.10" y2="1441.50" stroke="#000" stroke-width="2" />
<line x1="563.30" y1="1445.00" x2="563.30" y2="1439.00" stroke="#000" stroke-width="2" />
<line x1="592.50" y1="1445.00" x2="592.50" y2="1441.50" stroke="#000" stroke-width="2" />
<text x="154.50" y="1469.00" font-family="'Liberation Sans', Arial, sans-serif" font-size="22.7" font-weight="bold" fill="#000" text-anchor="middle" >0</text>
<text x="212.90" y="1469.00" font-family="'Liberation Sans', Arial, sans-serif" font-size="22.7" font-weight="bold" fill="#000" text-anchor="middle" >500</text>
<text x="271.30" y="1469.00" font-family="'Liberation Sans', Arial, sans-serif" font-size="22.7" font-weight="bold" fill="#000" text-anchor="middle" >1000</text>
<text x="329.70" y="1469.00" font-family="'Liberation Sans', Arial, sans-serif" font-size="22.7" font-weight="bold" fill="#000" text-anchor="middle" >1500</text>
<text x="388.10" y="1469.00" font-family="'Liberation Sans', Arial, sans-serif" font-size="22.7" font-weight="bold" fill="#000" text-anchor="middle" >2000</text>
<text x="446.50" y="1469.00" font-family="'Liberation Sans', Arial, sans-serif" font-size="22.7" font-weight="bold" fill="#000" text-anchor="middle" >2500</text>
<text x="504.90" y="1469.00" font-family="'Liberation Sans', Arial, sans-serif" font-size="22.7" font-weight="bold" fill="#000" text-anchor="middle" >3000</text>
<text x="563.30" y="1469.00" font-family="'Liberation Sans', Arial, sans-serif" font-size="22.7" font-weight="bold" fill="#000" text-anchor="middle" >3500</text>
<line x1="119.00" y1="1418.40" x2="122.50" y2="1418.40" stroke="#000" stroke-width="2" />
<line x1="119.00" y1="1391.00" x2="125.00" y2="1391.00" stroke="#000" stroke-width="2" />
<line x1="119.00" y1="1363.60" x2="122.50" y2="1363.60" stroke="#000" stroke-width="2" />
<line x1="119.00" y1="1336.20" x2="125.00" y2="1336.20" stroke="#000" stroke-width="2" />
<line x1="119.00" y1="1308.80" x2="122.50" y2="1308.80" stroke="#000" stroke-width="2" />
<line x1="119.00" y1="1281.40" x2="125.00" y2="1281.40" stroke="#000" stroke-width="2" />
<line x1="119.00" y1="1254.00" x2="122.50" y2="1254.00" stroke="#000" stroke-width="2" />
<line x1="119.00" y1="1226.60" x2="125.00" y2="1226.60" stroke="#000" stroke-width="2" />
<line x1="119.00" y1="1199.20" x2="122.50" y2="1199.20" stroke="#000" stroke-width="2" />
<line x1="119.00" y1="1171.80" x2="125.00" y2="1171.80" stroke="#000" stroke-width="2" />
<line x1="119.00" y1="1144.40" x2="122.50" y2="1144.40" stroke="#000" stroke-width="2" />
<line x1="119.00" y1="1117.00" x2="125.00" y2="1117.00" stroke="#000" stroke-width="2" />
<line x1="119.00" y1="1089.60" x2="122.50" y2="1089.60" stroke="#000" stroke-width="2" />
<text x="114.00" y="1453.30" font-family="'Liberation Sans', Arial, sans-serif" font-size="24.5" font-weight="bold" fill="#000" text-anchor="end" >-5</text>
<text x="114.00" y="1398.50" font-family="'Liberation Sans', Arial, sans-serif" font-size="24.5" font-weight="bold" fill="#000" text-anchor="end" >0</text>
<text x="114.00" y="1343.70" font-family="'Liberation Sans', Arial, sans-serif" font-size="24.5" font-weight="bold" fill="#000" text-anchor="end" >5</text>
<text x="114.00" y="1288.90" font-family="'Liberation Sans', Arial, sans-serif" font-size="24.5" font-weight="bold" fill="#000" text-anchor="end" >10</text>
<text x="114.00" y="1234.10" font-family="'Liberation Sans', Arial, sans-serif" font-size="24.5" font-weight="bold" fill="#000" text-anchor="end" >15</text>
<text x="114.00" y="1179.30" font-family="'Liberation Sans', Arial, sans-serif" font-size="24.5" font-weight="bold" fill="#000" text-anchor="end" >20</text>
<text x="114.00" y="1124.50" font-family="'Liberation Sans', Arial, sans-serif" font-size="24.5" font-weight="bold" fill="#000" text-anchor="end" >25</text>
<text x="114.00" y="1069.70" font-family="'Liberation Sans', Arial, sans-serif" font-size="24.5" font-weight="bold" fill="#000" text-anchor="end" >30</text>
<text x="357.50" y="1499.40" font-family="'Liberation Sans', Arial, sans-serif" font-size="26.3" font-weight="bold" fill="#000" text-anchor="middle" >Reverse-transported Cl<tspan dy="-10" font-size="16.5">−</tspan><tspan dy="10"> (mg L</tspan><tspan dy="-10" font-size="16.5">−1</tspan><tspan dy="10">)</tspan></text>
<text x="72.50" y="1252.50" font-family="'Liberation Sans', Arial, sans-serif" font-size="26.5" font-weight="bold" fill="#000" text-anchor="middle" transform="rotate(-90 72.50 1252.50)" >Free chlorine generation (mg L<tspan dy="-10" font-size="16.5">−1</tspan><tspan dy="10"> Cl</tspan><tspan dy="5" font-size="16.5">2</tspan><tspan dy="-5">)</tspan></text>
<path d="M154.50,1391.00 L171.44,1344.97 L191.64,1325.24 L216.75,1302.22 L249.46,1270.44 L291.74,1252.90 L398.03,1197.01 L551.62,1114.81" fill="none" stroke="#3a7fd5" stroke-width="2.2" stroke-dasharray="3.5 5.5"/>
<path d="M154.50,1393.19 L171.44,1390.45 L191.64,1370.18 L216.75,1366.34 L249.46,1344.97 L291.74,1335.10 L398.03,1303.32 L551.62,1254.55" fill="none" stroke="#e05050" stroke-width="2.2" stroke-dasharray="3.5 5.5"/>
<path d="M154.50,1391.00 L171.44,1391.00 L191.64,1391.00 L216.75,1391.00 L249.46,1391.00 L291.74,1391.00 L398.03,1391.00 L551.62,1391.00" fill="none" stroke="#35a060" stroke-width="2.2" stroke-dasharray="3.5 5.5"/>
<g><rect x="147.50" y="1384.00" width="14.00" height="14.00" fill="none" stroke="#3a7fd5" stroke-width="2.6"/><path d="M154.50,1388.00 V1394.00 M152.10,1388.00 H156.90 M152.10,1394.00 H156.90" stroke="#3a7fd5" stroke-width="1.5" fill="none"/><rect x="164.44" y="1337.97" width="14.00" height="14.00" fill="none" stroke="#3a7fd5" stroke-width="2.6"/><path d="M171.44,1341.97 V1347.97 M169.04,1341.97 H173.84 M169.04,1347.97 H173.84" stroke="#3a7fd5" stroke-width="1.5" fill="none"/><rect x="184.64" y="1318.24" width="14.00" height="14.00" fill="none" stroke="#3a7fd5" stroke-width="2.6"/><path d="M191.64,1322.24 V1328.24 M189.24,1322.24 H194.04 M189.24,1328.24 H194.04" stroke="#3a7fd5" stroke-width="1.5" fill="none"/><rect x="209.75" y="1295.22" width="14.00" height="14.00" fill="none" stroke="#3a7fd5" stroke-width="2.6"/><path d="M216.75,1296.22 V1308.22 M214.35,1296.22 H219.15 M214.35,1308.22 H219.15" stroke="#3a7fd5" stroke-width="1.5" fill="none"/><rect x="242.46" y="1263.44" width="14.00" height="14.00" fill="none" stroke="#3a7fd5" stroke-width="2.6"/><path d="M249.46,1264.44 V1276.44 M247.06,1264.44 H251.86 M247.06,1276.44 H251.86" stroke="#3a7fd5" stroke-width="1.5" fill="none"/><rect x="284.74" y="1245.90" width="14.00" height="14.00" fill="none" stroke="#3a7fd5" stroke-width="2.6"/><path d="M291.74,1249.90 V1255.90 M289.34,1249.90 H294.14 M289.34,1255.90 H294.14" stroke="#3a7fd5" stroke-width="1.5" fill="none"/><rect x="391.03" y="1190.01" width="14.00" height="14.00" fill="none" stroke="#3a7fd5" stroke-width="2.6"/><path d="M398.03,1194.01 V1200.01 M395.63,1194.01 H400.43 M395.63,1200.01 H400.43" stroke="#3a7fd5" stroke-width="1.5" fill="none"/><rect x="544.62" y="1107.81" width="14.00" height="14.00" fill="none" stroke="#3a7fd5" stroke-width="2.6"/><path d="M551.62,1111.81 V1117.81 M549.22,1111.81 H554.02 M549.22,1117.81 H554.02" stroke="#3a7fd5" stroke-width="1.5" fill="none"/><path d="M145.00,1400.19 L154.50,1384.19 L164.00,1400.19 Z" fill="none" stroke="#e05050" stroke-width="2.6" stroke-linejoin="miter"/><path d="M154.50,1388.19 V1396.19 M152.10,1388.19 H156.90 M152.10,1396.19 H156.90" stroke="#e05050" stroke-width="1.3" fill="none"/><path d="M161.94,1397.45 L171.44,1381.45 L180.94,1397.45 Z" fill="none" stroke="#e05050" stroke-width="2.6" stroke-linejoin="miter"/><path d="M171.44,1385.45 V1393.45 M169.04,1385.45 H173.84 M169.04,1393.45 H173.84" stroke="#e05050" stroke-width="1.3" fill="none"/><path d="M182.14,1377.18 L191.64,1361.18 L201.14,1377.18 Z" fill="none" stroke="#e05050" stroke-width="2.6" stroke-linejoin="miter"/><path d="M191.64,1365.18 V1373.18 M189.24,1365.18 H194.04 M189.24,1373.18 H194.04" stroke="#e05050" stroke-width="1.3" fill="none"/><path d="M207.25,1373.34 L216.75,1357.34 L226.25,1373.34 Z" fill="none" stroke="#e05050" stroke-width="2.6" stroke-linejoin="miter"/><path d="M216.75,1361.34 V1369.34 M214.35,1361.34 H219.15 M214.35,1369.34 H219.15" stroke="#e05050" stroke-width="1.3" fill="none"/><path d="M239.96,1351.97 L249.46,1335.97 L258.96,1351.97 Z" fill="none" stroke="#e05050" stroke-width="2.6" stroke-linejoin="miter"/><path d="M249.46,1339.97 V1347.97 M247.06,1339.97 H251.86 M247.06,1347.97 H251.86" stroke="#e05050" stroke-width="1.3" fill="none"/><path d="M282.24,1342.10 L291.74,1326.10 L301.24,1342.10 Z" fill="none" stroke="#e05050" stroke-width="2.6" stroke-linejoin="miter"/><path d="M291.74,1330.10 V1338.10 M289.34,1330.10 H294.14 M289.34,1338.10 H294.14" stroke="#e05050" stroke-width="1.3" fill="none"/><path d="M388.53,1310.32 L398.03,1294.32 L407.53,1310.32 Z" fill="none" stroke="#e05050" stroke-width="2.6" stroke-linejoin="miter"/><path d="M398.03,1298.32 V1306.32 M395.63,1298.32 H400.43 M395.63,1306.32 H400.43" stroke="#e05050" stroke-width="1.3" fill="none"/><path d="M542.12,1261.55 L551.62,1245.55 L561.12,1261.55 Z" fill="none" stroke="#e05050" stroke-width="2.6" stroke-linejoin="miter"/><path d="M551.62,1249.55 V1257.55 M549.22,1249.55 H554.02 M549.22,1257.55 H554.02" stroke="#e05050" stroke-width="1.3" fill="none"/><path d="M154.50,1381.00 L164.00,1391.00 L154.50,1401.00 L145.00,1391.00 Z" fill="#3a8a5c" stroke="#3a8a5c" stroke-width="3.2"/><circle cx="154.50" cy="1391.00" r="7.50" fill="#fff" stroke="#35a060" stroke-width="2.4"/><path d="M171.44,1381.00 L180.94,1391.00 L171.44,1401.00 L161.94,1391.00 Z" fill="#3a8a5c" stroke="#3a8a5c" stroke-width="3.2"/><circle cx="171.44" cy="1391.00" r="7.50" fill="#fff" stroke="#35a060" stroke-width="2.4"/><path d="M191.64,1381.00 L201.14,1391.00 L191.64,1401.00 L182.14,1391.00 Z" fill="#3a8a5c" stroke="#3a8a5c" stroke-width="3.2"/><circle cx="191.64" cy="1391.00" r="7.50" fill="#fff" stroke="#35a060" stroke-width="2.4"/><path d="M216.75,1381.00 L226.25,1391.00 L216.75,1401.00 L207.25,1391.00 Z" fill="#3a8a5c" stroke="#3a8a5c" stroke-width="3.2"/><circle cx="216.75" cy="1391.00" r="7.50" fill="#fff" stroke="#35a060" stroke-width="2.4"/><path d="M249.46,1381.00 L258.96,1391.00 L249.46,1401.00 L239.96,1391.00 Z" fill="#3a8a5c" stroke="#3a8a5c" stroke-width="3.2"/><circle cx="249.46" cy="1391.00" r="7.50" fill="#fff" stroke="#35a060" stroke-width="2.4"/><path d="M291.74,1381.00 L301.24,1391.00 L291.74,1401.00 L282.24,1391.00 Z" fill="#3a8a5c" stroke="#3a8a5c" stroke-width="3.2"/><circle cx="291.74" cy="1391.00" r="7.50" fill="#fff" stroke="#35a060" stroke-width="2.4"/><path d="M398.03,1381.00 L407.53,1391.00 L398.03,1401.00 L388.53,1391.00 Z" fill="#3a8a5c" stroke="#3a8a5c" stroke-width="3.2"/><circle cx="398.03" cy="1391.00" r="7.50" fill="#fff" stroke="#35a060" stroke-width="2.4"/><path d="M551.62,1381.00 L561.12,1391.00 L551.62,1401.00 L542.12,1391.00 Z" fill="#3a8a5c" stroke="#3a8a5c" stroke-width="3.2"/><circle cx="551.62" cy="1391.00" r="7.50" fill="#fff" stroke="#35a060" stroke-width="2.4"/></g>
<path d="M137,1086.9H181.6" stroke="#e05050" stroke-width="2" stroke-dasharray="2.5 4.5"/>
<path d="M150.80,1093.40 L159.80,1078.40 L168.80,1093.40 Z" fill="#fff" stroke="#e05050" stroke-width="2.4" stroke-linejoin="miter"/>
<text x="188.70" y="1093.70" font-family="'Liberation Sans', Arial, sans-serif" font-size="19.5" font-weight="bold" fill="#000" text-anchor="start" >UV/E-Cl</text>
<path d="M137,1112.6H181.6" stroke="#3a7fd5" stroke-width="2" stroke-dasharray="2.5 4.5"/>
<rect x="152.80" y="1105.60" width="14.00" height="14.00" fill="#fff" stroke="#3a7fd5" stroke-width="2.4"/>
<text x="188.70" y="1119.40" font-family="'Liberation Sans', Arial, sans-serif" font-size="19.5" font-weight="bold" fill="#000" text-anchor="start" >E-Cl</text>
<path d="M137,1137.3H181.6" stroke="#3a7fd5" stroke-width="2" stroke-dasharray="2.5 4.5"/>
<path d="M159.80,1128.30 L168.80,1137.30 L159.80,1146.30 L150.80,1137.30 Z" fill="#fff" stroke="#555555" stroke-width="2.4"/>
<text x="188.70" y="1144.10" font-family="'Liberation Sans', Arial, sans-serif" font-size="19.5" font-weight="bold" fill="#000" text-anchor="start" >UV</text>
<path d="M137,1163H181.6" stroke="#35a060" stroke-width="2" stroke-dasharray="2.5 4.5"/>
<circle cx="159.80" cy="1163.00" r="7.50" fill="#fff" stroke="#35a060" stroke-width="2.4"/>
<text x="188.70" y="1169.80" font-family="'Liberation Sans', Arial, sans-serif" font-size="19.5" font-weight="bold" fill="#000" text-anchor="start" >Control</text>
<text x="19.00" y="1058.30" font-family="'Liberation Sans', Arial, sans-serif" font-size="29" font-weight="bold" fill="#000" text-anchor="start" >d</text>
<rect x="723.7" y="1064.6" width="476.79999999999995" height="382.70000000000005" fill="none" stroke="#000" stroke-width="3.5"/>
<line x1="783.30" y1="1447.30" x2="783.30" y2="1443.80" stroke="#000" stroke-width="2" />
<line x1="842.90" y1="1447.30" x2="842.90" y2="1441.30" stroke="#000" stroke-width="2" />
<line x1="902.50" y1="1447.30" x2="902.50" y2="1443.80" stroke="#000" stroke-width="2" />
<line x1="962.10" y1="1447.30" x2="962.10" y2="1441.30" stroke="#000" stroke-width="2" />
<line x1="1021.70" y1="1447.30" x2="1021.70" y2="1443.80" stroke="#000" stroke-width="2" />
<line x1="1081.30" y1="1447.30" x2="1081.30" y2="1441.30" stroke="#000" stroke-width="2" />
<line x1="1140.90" y1="1447.30" x2="1140.90" y2="1443.80" stroke="#000" stroke-width="2" />
<text x="723.70" y="1471.40" font-family="'Liberation Sans', Arial, sans-serif" font-size="23.5" font-weight="bold" fill="#000" text-anchor="middle" >3320</text>
<text x="842.90" y="1471.40" font-family="'Liberation Sans', Arial, sans-serif" font-size="23.5" font-weight="bold" fill="#000" text-anchor="middle" >3340</text>
<text x="962.10" y="1471.40" font-family="'Liberation Sans', Arial, sans-serif" font-size="23.5" font-weight="bold" fill="#000" text-anchor="middle" >3360</text>
<text x="1081.30" y="1471.40" font-family="'Liberation Sans', Arial, sans-serif" font-size="23.5" font-weight="bold" fill="#000" text-anchor="middle" >3380</text>
<text x="1200.50" y="1471.40" font-family="'Liberation Sans', Arial, sans-serif" font-size="23.5" font-weight="bold" fill="#000" text-anchor="middle" >3400</text>
<text x="962.20" y="1503.50" font-family="'Liberation Sans', Arial, sans-serif" font-size="25.6" font-weight="bold" fill="#000" text-anchor="middle" >Magnetic field (G)</text>
<text x="701.40" y="1256.50" font-family="'Liberation Sans', Arial, sans-serif" font-size="25" font-weight="bold" fill="#000" text-anchor="middle" transform="rotate(-90 701.40 1256.50)" >Intensity (a.u.)</text>
<path d="M723.70,1237.50 C733.08,1237.47 762.28,1237.37 780.00,1237.30 C797.72,1237.23 820.50,1237.15 830.00,1237.10 C839.50,1237.05 834.92,1237.10 837.00,1237.00 C839.08,1236.90 841.00,1238.00 842.50,1236.50 C844.00,1235.00 844.83,1234.08 846.00,1228.00 C847.17,1221.92 848.52,1206.18 849.50,1200.00 C850.48,1193.82 851.07,1190.90 851.90,1190.90 C852.73,1190.90 853.48,1191.82 854.50,1200.00 C855.52,1208.18 856.92,1228.00 858.00,1240.00 C859.08,1252.00 860.15,1265.07 861.00,1272.00 C861.85,1278.93 862.35,1281.27 863.10,1281.60 C863.85,1281.93 864.52,1278.60 865.50,1274.00 C866.48,1269.40 867.75,1259.50 869.00,1254.00 C870.25,1248.50 871.68,1243.57 873.00,1241.00 C874.32,1238.43 875.40,1238.52 876.90,1238.60 C878.40,1238.68 880.32,1240.47 882.00,1241.50 C883.68,1242.53 885.33,1245.38 887.00,1244.80 C888.67,1244.22 890.30,1240.08 892.00,1238.00 C893.70,1235.92 895.70,1233.05 897.20,1232.30 C898.70,1231.55 899.83,1232.97 901.00,1233.50 C902.17,1234.03 902.87,1236.58 904.20,1235.50 C905.53,1234.42 907.05,1229.87 909.00,1227.00 C910.95,1224.13 913.90,1219.13 915.90,1218.30 C917.90,1217.47 919.32,1219.05 921.00,1222.00 C922.68,1224.95 924.50,1232.20 926.00,1236.00 C927.50,1239.80 928.75,1244.80 930.00,1244.80 C931.25,1244.80 932.42,1243.47 933.50,1236.00 C934.58,1228.53 935.50,1211.67 936.50,1200.00 C937.50,1188.33 938.71,1172.72 939.50,1166.00 C940.29,1159.28 940.58,1159.37 941.25,1159.70 C941.92,1160.03 942.62,1158.78 943.50,1168.00 C944.38,1177.22 945.42,1197.17 946.50,1215.00 C947.58,1232.83 948.92,1260.78 950.00,1275.00 C951.08,1289.22 952.00,1298.13 953.00,1300.30 C954.00,1302.47 955.00,1295.55 956.00,1288.00 C957.00,1280.45 957.87,1263.23 959.00,1255.00 C960.13,1246.77 961.55,1240.60 962.80,1238.60 C964.05,1236.60 965.30,1240.10 966.50,1243.00 C967.70,1245.90 968.67,1252.30 970.00,1256.00 C971.33,1259.70 973.00,1263.87 974.50,1265.20 C976.00,1266.53 977.43,1264.27 979.00,1264.00 C980.57,1263.73 982.40,1264.93 983.90,1263.60 C985.40,1262.27 986.43,1259.27 988.00,1256.00 C989.57,1252.73 991.88,1245.75 993.30,1244.00 C994.72,1242.25 995.47,1244.71 996.50,1245.50 C997.53,1246.29 998.25,1249.67 999.50,1248.75 C1000.75,1247.83 1002.57,1242.47 1004.00,1240.00 C1005.43,1237.53 1006.77,1233.73 1008.10,1233.90 C1009.43,1234.07 1010.64,1238.00 1012.00,1241.00 C1013.36,1244.00 1014.92,1249.60 1016.25,1251.90 C1017.58,1254.20 1018.83,1254.15 1020.00,1254.80 C1021.17,1255.45 1022.22,1258.27 1023.30,1255.80 C1024.38,1253.33 1025.47,1248.47 1026.50,1240.00 C1027.53,1231.53 1028.53,1213.30 1029.50,1205.00 C1030.47,1196.70 1031.38,1191.03 1032.30,1190.20 C1033.22,1189.37 1033.97,1189.20 1035.00,1200.00 C1036.03,1210.80 1037.33,1235.67 1038.50,1255.00 C1039.67,1274.33 1040.97,1302.72 1042.00,1316.00 C1043.03,1329.28 1043.78,1334.03 1044.70,1334.70 C1045.62,1335.37 1046.45,1330.78 1047.50,1320.00 C1048.55,1309.22 1049.92,1282.67 1051.00,1270.00 C1052.08,1257.33 1053.10,1249.10 1054.00,1244.00 C1054.90,1238.90 1055.23,1239.40 1056.40,1239.40 C1057.57,1239.40 1059.23,1241.40 1061.00,1244.00 C1062.77,1246.60 1065.17,1254.33 1067.00,1255.00 C1068.83,1255.67 1070.25,1250.22 1072.00,1248.00 C1073.75,1245.78 1075.83,1241.87 1077.50,1241.70 C1079.17,1241.53 1080.37,1244.92 1082.00,1247.00 C1083.63,1249.08 1085.63,1253.87 1087.30,1254.20 C1088.97,1254.53 1090.30,1250.70 1092.00,1249.00 C1093.70,1247.30 1096.12,1244.04 1097.50,1244.00 C1098.88,1243.96 1099.47,1249.42 1100.30,1248.75 C1101.13,1248.08 1101.55,1245.79 1102.50,1240.00 C1103.45,1234.21 1104.75,1220.75 1106.00,1214.00 C1107.25,1207.25 1108.83,1199.83 1110.00,1199.50 C1111.17,1199.17 1111.92,1203.58 1113.00,1212.00 C1114.08,1220.42 1115.18,1239.45 1116.50,1250.00 C1117.82,1260.55 1119.65,1272.30 1120.90,1275.30 C1122.15,1278.30 1122.73,1273.88 1124.00,1268.00 C1125.27,1262.12 1127.58,1245.17 1128.50,1240.00 C1129.42,1234.83 1128.75,1237.50 1129.50,1237.00 C1130.25,1236.50 1131.25,1237.00 1133.00,1237.00 C1134.75,1237.00 1128.87,1236.95 1140.00,1237.00 C1151.13,1237.05 1189.83,1237.25 1199.80,1237.30" fill="none" stroke="#b5302e" stroke-width="2.2" stroke-linejoin="round"/>
<path d="M725.00,1378.21 L726.98,1377.52 L728.97,1376.59 L730.95,1375.64 L732.93,1374.86 L734.92,1374.43 L736.90,1374.39 L738.88,1374.73 L740.87,1375.33 L742.85,1376.01 L744.83,1376.62 L746.82,1377.05 L748.80,1377.24 L750.78,1377.24 L752.77,1377.15 L754.75,1377.11 L756.73,1377.21 L758.72,1377.50 L760.70,1377.96 L762.68,1378.47 L764.67,1378.88 L766.65,1379.02 L768.63,1378.77 L770.62,1378.10 L772.60,1377.09 L774.58,1375.88 L776.56,1374.69 L778.55,1373.75 L780.53,1373.22 L782.51,1373.20 L784.50,1373.67 L786.48,1374.49 L788.46,1375.47 L790.45,1376.40 L792.43,1377.11 L794.41,1377.48 L796.40,1377.52 L798.38,1377.30 L800.36,1376.97 L802.35,1376.68 L804.33,1376.53 L806.31,1376.59 L808.30,1376.81 L810.28,1377.11 L812.26,1377.34 L814.25,1377.38 L816.23,1377.17 L818.21,1376.71 L820.20,1376.11 L822.18,1375.50 L824.16,1375.09 L826.15,1375.00 L828.13,1375.32 L830.11,1376.02 L832.10,1376.98 L834.08,1377.99 L836.06,1378.85 L838.05,1379.34 L840.03,1379.37 L842.01,1378.91 L844.00,1378.06 L845.98,1377.00 L847.96,1375.94 L849.95,1375.07 L851.93,1374.52 L853.91,1374.33 L855.90,1374.44 L857.88,1374.74 L859.86,1375.08 L861.85,1375.33 L863.83,1375.43 L865.81,1375.39 L867.79,1375.28 L869.78,1375.24 L871.76,1375.39 L873.74,1375.81 L875.73,1376.51 L877.71,1377.39 L879.69,1378.30 L881.68,1379.05 L883.66,1379.47 L885.64,1379.43 L887.63,1378.93 L889.61,1378.04 L891.59,1376.96 L893.58,1375.90 L895.56,1375.07 L897.54,1374.64 L899.53,1374.65 L901.51,1375.07 L903.49,1375.75 L905.48,1376.51 L907.46,1377.15 L909.44,1377.55 L911.43,1377.63 L913.41,1377.43 L915.39,1377.07 L917.38,1376.67 L919.36,1376.38 L921.34,1376.27 L923.33,1376.36 L925.31,1376.57 L927.29,1376.77 L929.28,1376.83 L931.26,1376.64 L933.24,1376.18 L935.23,1375.49 L937.21,1374.72 L939.19,1374.05 L941.18,1373.67 L943.16,1373.72 L945.14,1374.24 L947.13,1375.19 L949.11,1376.41 L951.09,1377.67 L953.08,1378.74 L955.06,1379.45 L957.04,1379.69 L959.03,1379.47 L961.01,1378.89 L962.99,1378.12 L964.97,1377.35 L966.96,1376.75 L968.94,1376.38 L970.92,1376.26 L972.91,1376.30 L974.89,1376.38 L976.87,1376.38 L978.86,1376.20 L980.84,1375.85 L982.82,1375.38 L984.81,1374.91 L986.79,1374.62 L988.77,1374.61 L990.76,1374.95 L992.74,1375.62 L994.72,1376.49 L996.71,1377.39 L998.69,1378.10 L1000.67,1378.45 L1002.66,1378.36 L1004.64,1377.82 L1006.62,1376.95 L1008.61,1375.95 L1010.59,1375.03 L1012.57,1374.40 L1014.56,1374.18 L1016.54,1374.39 L1018.52,1374.96 L1020.51,1375.75 L1022.49,1376.55 L1024.47,1377.22 L1026.46,1377.64 L1028.44,1377.79 L1030.42,1377.73 L1032.41,1377.59 L1034.39,1377.47 L1036.37,1377.50 L1038.36,1377.69 L1040.34,1378.00 L1042.32,1378.32 L1044.31,1378.51 L1046.29,1378.41 L1048.27,1377.95 L1050.26,1377.14 L1052.24,1376.07 L1054.22,1374.92 L1056.21,1373.92 L1058.19,1373.25 L1060.17,1373.07 L1062.15,1373.39 L1064.14,1374.16 L1066.12,1375.18 L1068.10,1376.27 L1070.09,1377.19 L1072.07,1377.79 L1074.05,1378.00 L1076.04,1377.85 L1078.02,1377.46 L1080.00,1376.99 L1081.99,1376.61 L1083.97,1376.41 L1085.95,1376.43 L1087.94,1376.63 L1089.92,1376.89 L1091.90,1377.09 L1093.89,1377.10 L1095.87,1376.89 L1097.85,1376.48 L1099.84,1375.97 L1101.82,1375.52 L1103.80,1375.30 L1105.79,1375.41 L1107.77,1375.89 L1109.75,1376.68 L1111.74,1377.63 L1113.72,1378.51 L1115.70,1379.14 L1117.69,1379.34 L1119.67,1379.05 L1121.65,1378.30 L1123.64,1377.24 L1125.62,1376.07 L1127.60,1375.02 L1129.59,1374.26 L1131.57,1373.89 L1133.55,1373.92 L1135.54,1374.26 L1137.52,1374.76 L1139.50,1375.26 L1141.49,1375.64 L1143.47,1375.84 L1145.45,1375.89 L1147.44,1375.87 L1149.42,1375.91 L1151.40,1376.12 L1153.38,1376.56 L1155.37,1377.21 L1157.35,1377.98 L1159.33,1378.70 L1161.32,1379.20 L1163.30,1379.32 L1165.28,1379.00 L1167.27,1378.27 L1169.25,1377.25 L1171.23,1376.16 L1173.22,1375.20 L1175.20,1374.57 L1177.18,1374.40 L1179.17,1374.68 L1181.15,1375.33 L1183.13,1376.17 L1185.12,1376.99 L1187.10,1377.60 L1189.08,1377.90 L1191.07,1377.85 L1193.05,1377.51 L1195.03,1377.02 L1197.02,1376.52 L1199.00,1376.16" fill="none" stroke="#3a7d3a" stroke-width="2.2"/>
<path d="M851.10,1176.80 L855.60,1182.80 L851.10,1188.80 L846.60,1182.80 Z" fill="#4472c4" stroke="#4472c4" stroke-width="0"/>
<path d="M940.60,1145.60 L945.10,1151.60 L940.60,1157.60 L936.10,1151.60 Z" fill="#4472c4" stroke="#4472c4" stroke-width="0"/>
<path d="M1031.90,1174.80 L1036.40,1180.80 L1031.90,1186.80 L1027.40,1180.80 Z" fill="#4472c4" stroke="#4472c4" stroke-width="0"/>
<path d="M1109.20,1185.70 L1113.70,1191.70 L1109.20,1197.70 L1104.70,1191.70 Z" fill="#4472c4" stroke="#4472c4" stroke-width="0"/>
<path d="M871.30,1223.00 L875.30,1231.00 L879.30,1223.00 Z" fill="#4472c4" stroke="#4472c4" stroke-width="0"/>
<path d="M893.50,1216.00 L897.50,1224.00 L901.50,1216.00 Z" fill="#4472c4" stroke="#4472c4" stroke-width="0"/>
<path d="M912.70,1202.70 L916.70,1210.70 L920.70,1202.70 Z" fill="#4472c4" stroke="#4472c4" stroke-width="0"/>
<path d="M959.90,1223.00 L963.90,1231.00 L967.90,1223.00 Z" fill="#4472c4" stroke="#4472c4" stroke-width="0"/>
<path d="M988.50,1223.80 L992.50,1231.80 L996.50,1223.80 Z" fill="#4472c4" stroke="#4472c4" stroke-width="0"/>
<path d="M1005.40,1216.75 L1009.40,1224.75 L1013.40,1216.75 Z" fill="#4472c4" stroke="#4472c4" stroke-width="0"/>
<path d="M1053.30,1224.60 L1057.30,1232.60 L1061.30,1224.60 Z" fill="#4472c4" stroke="#4472c4" stroke-width="0"/>
<path d="M1074.75,1227.40 L1078.75,1235.40 L1082.75,1227.40 Z" fill="#4472c4" stroke="#4472c4" stroke-width="0"/>
<path d="M1092.40,1228.50 L1096.40,1236.50 L1100.40,1228.50 Z" fill="#4472c4" stroke="#4472c4" stroke-width="0"/>
<line x1="735.00" y1="1094.00" x2="778.70" y2="1094.00" stroke="#3a7d3a" stroke-width="2.2" />
<text x="786.00" y="1100.50" font-family="'Liberation Sans', Arial, sans-serif" font-size="19.5" font-weight="bold" fill="#000" text-anchor="start" >E-Cl</text>
<line x1="735.00" y1="1120.00" x2="778.70" y2="1120.00" stroke="#b5302e" stroke-width="2.2" />
<text x="785.00" y="1127.00" font-family="'Liberation Sans', Arial, sans-serif" font-size="19.5" font-weight="bold" fill="#000" text-anchor="start" >UV/E-Cl</text>
<path d="M882.80,1114.00 L886.80,1120.00 L882.80,1126.00 L878.80,1120.00 Z" fill="#4472c4" stroke="#4472c4" stroke-width="0"/>
<text x="890.50" y="1127.00" font-family="'Liberation Sans', Arial, sans-serif" font-size="19.5" font-weight="bold" fill="#000" text-anchor="start" >•OH</text>
<path d="M944.20,1113.50 L948.20,1122.50 L952.20,1113.50 Z" fill="#4472c4" stroke="#4472c4" stroke-width="0"/>
<text x="956.50" y="1127.00" font-family="'Liberation Sans', Arial, sans-serif" font-size="19.5" font-weight="bold" fill="#000" text-anchor="start" >•Cl</text>
<text x="697.50" y="1058.30" font-family="'Liberation Sans', Arial, sans-serif" font-size="29" font-weight="bold" fill="#000" text-anchor="start" >e</text>
<text x="1152.00" y="1480.60" font-family="'Liberation Sans', Arial, sans-serif" font-size="21.2" font-weight="bold" fill="#000" text-anchor="start" ><tspan fill="#e0383a">W</tspan><tspan fill="#1b6ad0">a</tspan><tspan fill="#f2a01e">t</tspan><tspan fill="#7fbe3c">er</tspan></text>
<text x="1214.00" y="1480.60" font-family="'Liberation Serif', 'Times New Roman', serif" font-size="19.5" font-weight="bold" fill="#2a66c0" text-anchor="start" font-style="italic">8848</text>
<text x="1255.00" y="1479.00" font-family="'Liberation Sans', Arial, sans-serif" font-size="9" font-weight="normal" fill="#e0383a" text-anchor="start" >.com</text>
<text x="1153.00" y="1498.50" font-family="'Liberation Sans','Noto Sans CJK SC',sans-serif" font-size="14" font-weight="bold" fill="#1f6cc8" text-anchor="start" letter-spacing="12">中国水业网</text></svg>
</body></html>
